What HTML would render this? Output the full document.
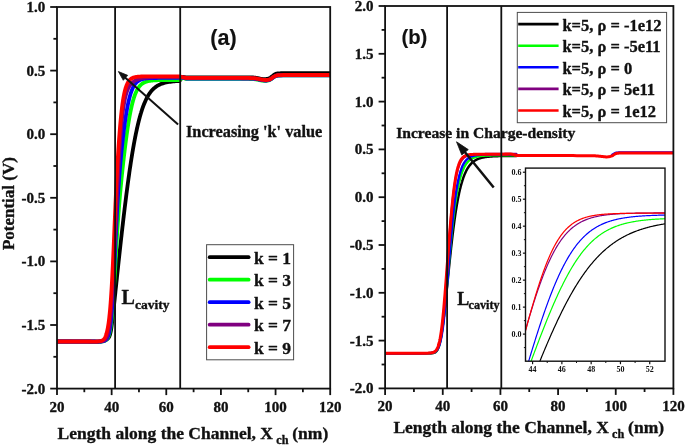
<!DOCTYPE html>
<html><head><meta charset="utf-8"><style>
html,body{margin:0;padding:0;background:#fff;width:685px;height:445px;overflow:hidden}
svg{display:block;will-change:transform}
text{fill:#111;stroke:#111;stroke-width:0.35px;stroke-linejoin:round}
</style></head><body>
<svg width="685" height="445" viewBox="0 0 685 445"><clipPath id="ca"><rect x="57.00" y="7.00" width="273.20" height="381.60"/></clipPath>
<clipPath id="cb"><rect x="385.10" y="6.00" width="288.30" height="382.40"/></clipPath>
<g clip-path="url(#ca)">
<path d="M57.00,341.49 L59.73,341.49 L62.46,341.49 L65.20,341.50 L67.93,341.51 L70.66,341.52 L73.39,341.53 L76.12,341.55 L78.86,341.58 L81.59,341.61 L84.32,341.66 L87.05,341.71 L89.78,341.77 L92.52,341.83 L95.25,341.85 L95.69,341.85 L96.12,341.84 L96.56,341.83 L97.00,341.82 L97.43,341.81 L97.87,341.79 L98.31,341.77 L98.74,341.74 L99.18,341.71 L99.62,341.67 L100.06,341.62 L100.49,341.57 L100.93,341.50 L101.37,341.43 L101.80,341.35 L102.24,341.26 L102.68,341.15 L103.12,341.04 L103.55,340.91 L103.99,340.76 L104.43,340.60 L104.76,340.47 L105.08,340.33 L105.41,340.18 L105.74,340.02 L106.07,339.84 L106.39,339.65 L106.72,339.45 L107.05,339.22 L107.38,338.98 L107.71,338.70 L108.03,338.38 L108.36,338.01 L108.58,337.73 L108.80,337.41 L109.02,337.05 L109.24,336.63 L109.45,336.15 L109.67,335.60 L109.89,334.96 L110.00,334.60 L110.11,334.22 L110.22,333.82 L110.33,333.38 L110.44,332.91 L110.55,332.42 L110.66,331.89 L110.77,331.34 L110.88,330.75 L110.98,330.13 L111.09,329.48 L111.20,328.81 L111.31,328.10 L111.42,327.37 L111.53,326.61 L111.64,325.82 L111.75,325.02 L111.86,324.18 L111.97,323.33 L112.08,322.46 L112.19,321.57 L112.30,320.67 L112.40,319.75 L112.51,318.82 L112.62,317.87 L112.73,316.92 L112.84,315.95 L112.95,314.98 L113.06,313.99 L113.17,313.00 L113.28,312.00 L113.39,311.00 L113.50,309.99 L113.61,308.98 L113.72,307.97 L113.83,306.95 L113.93,305.92 L114.04,304.90 L114.15,303.87 L114.26,302.84 L114.37,301.81 L114.48,300.78 L114.59,299.74 L114.70,298.71 L114.81,297.67 L114.92,296.63 L115.03,295.60 L115.14,294.56 L115.25,293.52 L115.36,292.48 L115.46,291.44 L115.57,290.41 L115.68,289.37 L115.79,288.33 L115.90,287.29 L116.01,286.25 L116.12,285.22 L116.23,284.18 L116.34,283.14 L116.45,282.11 L116.56,281.07 L116.67,280.04 L116.78,279.01 L116.89,277.97 L116.99,276.94 L117.10,275.91 L117.21,274.88 L117.32,273.85 L117.43,272.82 L117.54,271.79 L117.65,270.77 L117.76,269.74 L117.87,268.72 L117.98,267.69 L118.09,266.67 L118.20,265.65 L118.31,264.63 L118.42,263.61 L118.52,262.60 L118.63,261.58 L118.74,260.56 L118.85,259.55 L118.96,258.54 L119.07,257.53 L119.18,256.52 L119.29,255.51 L119.40,254.51 L119.51,253.50 L119.62,252.50 L119.73,251.50 L119.84,250.50 L119.95,249.50 L120.05,248.50 L120.16,247.51 L120.27,246.52 L120.38,245.52 L120.49,244.54 L120.60,243.55 L120.71,242.56 L120.82,241.58 L120.93,240.60 L121.04,239.62 L121.15,238.64 L121.26,237.66 L121.37,236.69 L121.48,235.71 L121.58,234.74 L121.69,233.78 L121.80,232.81 L121.91,231.85 L122.02,230.88 L122.13,229.92 L122.24,228.97 L122.35,228.01 L122.46,227.06 L122.57,226.11 L122.68,225.16 L122.79,224.21 L122.90,223.27 L123.01,222.33 L123.11,221.39 L123.22,220.45 L123.33,219.52 L123.44,218.59 L123.55,217.66 L123.66,216.73 L123.77,215.81 L123.88,214.89 L123.99,213.97 L124.10,213.05 L124.21,212.14 L124.32,211.23 L124.43,210.32 L124.54,209.41 L124.64,208.51 L124.75,207.61 L124.86,206.71 L124.97,205.82 L125.08,204.93 L125.19,204.04 L125.30,203.15 L125.41,202.27 L125.52,201.39 L125.63,200.51 L125.74,199.64 L125.85,198.77 L125.96,197.90 L126.06,197.04 L126.17,196.17 L126.28,195.31 L126.39,194.46 L126.50,193.61 L126.61,192.76 L126.72,191.91 L126.83,191.07 L126.94,190.23 L127.05,189.39 L127.16,188.56 L127.27,187.73 L127.38,186.90 L127.49,186.07 L127.59,185.25 L127.70,184.44 L127.81,183.62 L127.92,182.81 L128.03,182.01 L128.14,181.20 L128.25,180.40 L128.36,179.60 L128.47,178.81 L128.58,178.02 L128.69,177.24 L128.80,176.45 L128.91,175.67 L129.02,174.90 L129.12,174.13 L129.23,173.36 L129.34,172.59 L129.45,171.83 L129.56,171.07 L129.67,170.32 L129.78,169.57 L129.89,168.82 L130.00,168.08 L130.11,167.34 L130.22,166.60 L130.33,165.87 L130.44,165.14 L130.55,164.42 L130.65,163.70 L130.76,162.98 L130.87,162.26 L130.98,161.56 L131.09,160.85 L131.20,160.15 L131.31,159.45 L131.42,158.75 L131.53,158.06 L131.64,157.38 L131.75,156.69 L131.86,156.02 L131.97,155.34 L132.08,154.67 L132.18,154.00 L132.29,153.34 L132.40,152.68 L132.51,152.02 L132.62,151.37 L132.73,150.72 L132.84,150.08 L132.95,149.44 L133.06,148.80 L133.17,148.17 L133.28,147.54 L133.39,146.92 L133.50,146.30 L133.61,145.68 L133.71,145.07 L133.82,144.46 L133.93,143.85 L134.04,143.25 L134.15,142.66 L134.26,142.06 L134.37,141.48 L134.48,140.89 L134.59,140.31 L134.70,139.73 L134.81,139.16 L134.92,138.59 L135.03,138.03 L135.14,137.46 L135.24,136.91 L135.35,136.35 L135.46,135.80 L135.57,135.26 L135.68,134.72 L135.79,134.18 L135.90,133.65 L136.01,133.12 L136.12,132.59 L136.23,132.07 L136.34,131.55 L136.45,131.04 L136.56,130.52 L136.67,130.02 L136.77,129.52 L136.88,129.02 L136.99,128.52 L137.10,128.03 L137.21,127.54 L137.32,127.06 L137.43,126.58 L137.54,126.10 L137.65,125.63 L137.76,125.16 L137.87,124.70 L137.98,124.24 L138.09,123.78 L138.20,123.33 L138.30,122.88 L138.41,122.43 L138.52,121.99 L138.63,121.55 L138.74,121.12 L138.85,120.69 L138.96,120.26 L139.07,119.84 L139.18,119.42 L139.29,119.00 L139.40,118.59 L139.51,118.18 L139.62,117.77 L139.72,117.37 L139.83,116.97 L139.94,116.57 L140.05,116.18 L140.16,115.79 L140.27,115.41 L140.38,115.03 L140.49,114.65 L140.60,114.28 L140.71,113.91 L140.82,113.54 L140.93,113.17 L141.04,112.81 L141.15,112.46 L141.25,112.10 L141.36,111.75 L141.47,111.40 L141.58,111.06 L141.69,110.72 L141.80,110.38 L141.91,110.04 L142.13,109.38 L142.35,108.74 L142.57,108.10 L142.78,107.48 L143.00,106.87 L143.22,106.27 L143.44,105.68 L143.66,105.11 L143.88,104.55 L144.10,103.99 L144.31,103.45 L144.53,102.92 L144.75,102.41 L144.97,101.90 L145.19,101.40 L145.41,100.91 L145.63,100.44 L145.84,99.97 L146.06,99.51 L146.28,99.06 L146.50,98.63 L146.72,98.20 L146.94,97.78 L147.16,97.37 L147.37,96.97 L147.59,96.58 L147.81,96.19 L148.03,95.82 L148.25,95.45 L148.47,95.09 L148.69,94.74 L148.90,94.40 L149.12,94.07 L149.34,93.74 L149.56,93.42 L149.78,93.11 L150.00,92.80 L150.22,92.50 L150.43,92.21 L150.65,91.93 L150.87,91.65 L151.20,91.24 L151.53,90.85 L151.86,90.48 L152.18,90.11 L152.51,89.76 L152.84,89.42 L153.17,89.10 L153.49,88.78 L153.82,88.48 L154.15,88.18 L154.48,87.90 L154.81,87.63 L155.13,87.37 L156.72,86.23 L158.08,85.40 L159.45,84.69 L160.82,84.09 L162.18,83.57 L163.55,83.14 L164.91,82.76 L166.28,82.45 L167.65,82.18 L169.01,81.95 L170.38,81.76 L171.74,81.59 L173.11,81.45 L174.48,81.33 L175.84,81.23 L177.21,81.15 L178.57,81.08 L179.39,81.04 L182.50,76.90 L186.00,77.30 L189.56,77.30 L194.47,77.30 L200.33,77.30 L206.75,77.29 L213.32,77.29 L219.66,77.29 L225.35,77.30 L230.00,77.30 L233.74,77.31 L237.02,77.31 L239.87,77.32 L242.38,77.33 L244.58,77.34 L246.55,77.35 L248.33,77.37 L250.00,77.40 L251.43,77.43 L252.51,77.46 L253.32,77.50 L253.94,77.54 L254.44,77.59 L254.90,77.65 L255.39,77.72 L256.00,77.80 L256.67,77.90 L257.32,78.02 L257.95,78.15 L258.56,78.29 L259.17,78.43 L259.77,78.56 L260.38,78.69 L261.00,78.80 L261.63,78.90 L262.27,78.99 L262.92,79.04 L263.56,79.08 L264.20,79.11 L264.82,79.12 L265.42,79.10 L266.00,79.06 L266.55,78.98 L267.09,78.89 L267.62,78.77 L268.12,78.64 L268.62,78.48 L269.09,78.31 L269.55,78.12 L270.00,77.91 L270.42,77.68 L270.82,77.42 L271.20,77.13 L271.56,76.83 L271.92,76.52 L272.27,76.22 L272.63,75.93 L273.00,75.66 L273.37,75.40 L273.73,75.14 L274.08,74.89 L274.44,74.64 L274.80,74.40 L275.18,74.18 L275.58,73.98 L276.00,73.80 L276.41,73.68 L276.79,73.59 L277.16,73.51 L277.56,73.46 L278.02,73.41 L278.55,73.37 L279.21,73.34 L280.00,73.30 L280.76,73.27 L281.38,73.24 L281.99,73.23 L282.75,73.22 L283.79,73.21 L285.25,73.21 L287.27,73.20 L290.00,73.20 L293.84,73.20 L298.83,73.19 L304.56,73.19 L310.62,73.19 L316.61,73.20 L322.11,73.20 L326.71,73.20 L330.00,73.20" fill="none" stroke="#000000" stroke-width="3.80" stroke-linejoin="round" stroke-linecap="round"/>
<path d="M57.00,341.48 L59.73,341.48 L62.46,341.48 L65.20,341.48 L67.93,341.48 L70.66,341.48 L73.39,341.48 L76.12,341.48 L78.86,341.48 L81.59,341.48 L84.32,341.49 L87.05,341.49 L89.78,341.50 L92.52,341.51 L95.25,341.52 L95.69,341.52 L96.12,341.52 L96.56,341.53 L97.00,341.53 L97.43,341.53 L97.87,341.53 L98.31,341.53 L98.74,341.53 L99.18,341.52 L99.62,341.52 L100.06,341.51 L100.49,341.50 L100.93,341.48 L101.37,341.46 L101.80,341.43 L102.24,341.39 L102.68,341.34 L103.12,341.27 L103.55,341.19 L103.99,341.08 L104.43,340.95 L104.76,340.82 L105.08,340.68 L105.41,340.50 L105.74,340.30 L106.07,340.05 L106.39,339.77 L106.72,339.43 L107.05,339.03 L107.27,338.73 L107.49,338.39 L107.71,338.02 L107.92,337.61 L108.14,337.15 L108.36,336.65 L108.58,336.09 L108.80,335.47 L108.91,335.14 L109.02,334.79 L109.13,334.42 L109.24,334.04 L109.35,333.63 L109.45,333.21 L109.56,332.77 L109.67,332.30 L109.78,331.81 L109.89,331.30 L110.00,330.77 L110.11,330.21 L110.22,329.62 L110.33,329.01 L110.44,328.37 L110.55,327.70 L110.66,327.00 L110.77,326.28 L110.88,325.52 L110.98,324.73 L111.09,323.90 L111.20,323.05 L111.31,322.16 L111.42,321.23 L111.53,320.27 L111.64,319.27 L111.75,318.23 L111.86,317.15 L111.97,316.04 L112.08,314.89 L112.19,313.70 L112.30,312.47 L112.40,311.20 L112.51,309.89 L112.62,308.54 L112.73,307.15 L112.84,305.72 L112.95,304.26 L113.06,302.75 L113.17,301.21 L113.28,299.63 L113.39,298.02 L113.50,296.37 L113.61,294.68 L113.72,292.97 L113.83,291.22 L113.93,289.45 L114.04,287.64 L114.15,285.82 L114.26,283.96 L114.37,282.09 L114.48,280.20 L114.59,278.28 L114.70,276.36 L114.81,274.42 L114.92,272.47 L115.03,270.51 L115.14,268.54 L115.25,266.57 L115.36,264.60 L115.46,262.63 L115.57,260.66 L115.68,258.69 L115.79,256.73 L115.90,254.78 L116.01,252.84 L116.12,250.92 L116.23,249.00 L116.34,247.10 L116.45,245.22 L116.56,243.35 L116.67,241.50 L116.78,239.68 L116.89,237.87 L116.99,236.08 L117.10,234.31 L117.21,232.57 L117.32,230.85 L117.43,229.15 L117.54,227.48 L117.65,225.82 L117.76,224.19 L117.87,222.58 L117.98,221.00 L118.09,219.44 L118.20,217.90 L118.31,216.38 L118.42,214.88 L118.52,213.40 L118.63,211.94 L118.74,210.51 L118.85,209.09 L118.96,207.69 L119.07,206.31 L119.18,204.94 L119.29,203.60 L119.40,202.27 L119.51,200.95 L119.62,199.66 L119.73,198.37 L119.84,197.10 L119.95,195.85 L120.05,194.61 L120.16,193.38 L120.27,192.16 L120.38,190.96 L120.49,189.77 L120.60,188.59 L120.71,187.42 L120.82,186.26 L120.93,185.11 L121.04,183.97 L121.15,182.84 L121.26,181.72 L121.37,180.60 L121.48,179.50 L121.58,178.41 L121.69,177.32 L121.80,176.24 L121.91,175.17 L122.02,174.11 L122.13,173.05 L122.24,172.00 L122.35,170.96 L122.46,169.92 L122.57,168.90 L122.68,167.88 L122.79,166.86 L122.90,165.85 L123.01,164.85 L123.11,163.86 L123.22,162.87 L123.33,161.89 L123.44,160.91 L123.55,159.94 L123.66,158.98 L123.77,158.02 L123.88,157.07 L123.99,156.13 L124.10,155.19 L124.21,154.26 L124.32,153.33 L124.43,152.41 L124.54,151.50 L124.64,150.59 L124.75,149.69 L124.86,148.79 L124.97,147.90 L125.08,147.02 L125.19,146.14 L125.30,145.27 L125.41,144.41 L125.52,143.55 L125.63,142.70 L125.74,141.85 L125.85,141.01 L125.96,140.18 L126.06,139.36 L126.17,138.54 L126.28,137.72 L126.39,136.92 L126.50,136.12 L126.61,135.32 L126.72,134.54 L126.83,133.76 L126.94,132.99 L127.05,132.22 L127.16,131.46 L127.27,130.71 L127.38,129.96 L127.49,129.22 L127.59,128.49 L127.70,127.76 L127.81,127.04 L127.92,126.33 L128.03,125.63 L128.14,124.93 L128.25,124.24 L128.36,123.56 L128.47,122.88 L128.58,122.21 L128.69,121.55 L128.80,120.89 L128.91,120.24 L129.02,119.60 L129.12,118.97 L129.23,118.34 L129.34,117.72 L129.45,117.10 L129.56,116.50 L129.67,115.90 L129.78,115.31 L129.89,114.72 L130.00,114.14 L130.11,113.57 L130.22,113.01 L130.33,112.45 L130.44,111.90 L130.55,111.36 L130.65,110.82 L130.76,110.29 L130.87,109.77 L130.98,109.25 L131.09,108.74 L131.20,108.24 L131.31,107.74 L131.42,107.26 L131.53,106.77 L131.64,106.30 L131.75,105.83 L131.86,105.37 L131.97,104.91 L132.08,104.46 L132.18,104.02 L132.29,103.58 L132.40,103.15 L132.51,102.73 L132.62,102.31 L132.73,101.90 L132.84,101.50 L132.95,101.10 L133.06,100.71 L133.17,100.32 L133.28,99.94 L133.39,99.57 L133.50,99.20 L133.61,98.84 L133.71,98.48 L133.82,98.13 L133.93,97.78 L134.04,97.44 L134.15,97.11 L134.37,96.46 L134.59,95.83 L134.81,95.22 L135.03,94.63 L135.24,94.06 L135.46,93.51 L135.68,92.98 L135.90,92.47 L136.12,91.98 L136.34,91.50 L136.56,91.04 L136.77,90.60 L136.99,90.17 L137.21,89.76 L137.43,89.37 L137.65,88.99 L137.87,88.62 L138.09,88.27 L138.30,87.94 L138.52,87.61 L138.74,87.30 L138.96,87.00 L139.18,86.71 L139.40,86.43 L139.72,86.04 L140.05,85.66 L140.38,85.31 L140.71,84.99 L141.04,84.68 L141.36,84.39 L141.69,84.11 L142.02,83.86 L142.35,83.62 L142.68,83.39 L143.00,83.18 L143.33,82.98 L143.66,82.79 L143.99,82.62 L144.31,82.46 L144.64,82.30 L144.97,82.16 L145.30,82.03 L145.63,81.90 L146.06,81.74 L146.50,81.60 L146.94,81.47 L147.37,81.35 L147.81,81.24 L148.25,81.14 L148.69,81.05 L149.12,80.97 L149.56,80.89 L150.00,80.82 L150.43,80.76 L150.87,80.70 L151.31,80.64 L151.75,80.59 L152.18,80.55 L152.62,80.51 L153.06,80.47 L153.49,80.44 L153.93,80.41 L154.37,80.38 L154.81,80.35 L155.24,80.33 L156.72,80.26 L158.08,80.21 L159.45,80.18 L160.82,80.15 L162.18,80.13 L163.55,80.12 L164.91,80.11 L166.28,80.10 L167.65,80.09 L169.01,80.09 L170.38,80.08 L171.74,80.08 L173.11,80.08 L174.48,80.08 L175.84,80.08 L177.21,80.08 L178.57,80.08 L179.39,80.08 L182.50,77.70 L186.00,78.90 L189.56,78.90 L194.47,78.90 L200.33,78.90 L206.75,78.89 L213.32,78.89 L219.66,78.89 L225.35,78.90 L230.00,78.90 L233.74,78.91 L237.02,78.91 L239.87,78.92 L242.38,78.93 L244.58,78.94 L246.55,78.95 L248.33,78.97 L250.00,79.00 L251.43,79.03 L252.51,79.06 L253.32,79.10 L253.94,79.14 L254.44,79.19 L254.90,79.25 L255.39,79.32 L256.00,79.40 L256.67,79.50 L257.32,79.62 L257.95,79.75 L258.56,79.89 L259.17,80.03 L259.77,80.16 L260.38,80.29 L261.00,80.40 L261.63,80.50 L262.27,80.60 L262.92,80.68 L263.56,80.75 L264.20,80.80 L264.82,80.84 L265.42,80.85 L266.00,80.83 L266.55,80.78 L267.09,80.71 L267.62,80.61 L268.12,80.50 L268.62,80.37 L269.09,80.21 L269.55,80.04 L270.00,79.86 L270.42,79.64 L270.82,79.40 L271.20,79.13 L271.56,78.84 L271.92,78.55 L272.27,78.26 L272.63,77.98 L273.00,77.73 L273.37,77.49 L273.73,77.24 L274.08,77.00 L274.44,76.77 L274.80,76.55 L275.18,76.35 L275.58,76.16 L276.00,76.00 L276.41,75.88 L276.79,75.79 L277.16,75.71 L277.56,75.66 L278.02,75.61 L278.55,75.57 L279.21,75.54 L280.00,75.50 L280.76,75.47 L281.38,75.44 L281.99,75.43 L282.75,75.42 L283.79,75.41 L285.25,75.41 L287.27,75.40 L290.00,75.40 L293.84,75.40 L298.83,75.39 L304.56,75.39 L310.62,75.39 L316.61,75.40 L322.11,75.40 L326.71,75.40 L330.00,75.40" fill="none" stroke="#00ff00" stroke-width="3.80" stroke-linejoin="round" stroke-linecap="round"/>
<path d="M57.00,341.48 L59.73,341.48 L62.46,341.48 L65.20,341.48 L67.93,341.48 L70.66,341.48 L73.39,341.48 L76.12,341.48 L78.86,341.48 L81.59,341.48 L84.32,341.49 L87.05,341.49 L89.78,341.50 L92.52,341.51 L95.25,341.52 L95.69,341.53 L96.12,341.53 L96.56,341.53 L97.00,341.53 L97.43,341.54 L97.87,341.54 L98.31,341.54 L98.74,341.53 L99.18,341.53 L99.62,341.52 L100.06,341.51 L100.49,341.50 L100.93,341.48 L101.37,341.45 L101.80,341.42 L102.24,341.37 L102.68,341.31 L103.12,341.23 L103.55,341.12 L103.99,340.99 L104.43,340.82 L104.76,340.67 L105.08,340.48 L105.41,340.26 L105.74,340.00 L106.07,339.70 L106.39,339.34 L106.61,339.06 L106.83,338.75 L107.05,338.41 L107.27,338.03 L107.49,337.61 L107.71,337.14 L107.92,336.62 L108.14,336.04 L108.36,335.40 L108.47,335.05 L108.58,334.69 L108.69,334.31 L108.80,333.91 L108.91,333.49 L109.02,333.04 L109.13,332.58 L109.24,332.09 L109.35,331.58 L109.45,331.05 L109.56,330.48 L109.67,329.90 L109.78,329.28 L109.89,328.63 L110.00,327.96 L110.11,327.25 L110.22,326.51 L110.33,325.74 L110.44,324.93 L110.55,324.09 L110.66,323.20 L110.77,322.29 L110.88,321.33 L110.98,320.33 L111.09,319.29 L111.20,318.21 L111.31,317.09 L111.42,315.92 L111.53,314.71 L111.64,313.45 L111.75,312.15 L111.86,310.80 L111.97,309.40 L112.08,307.96 L112.19,306.46 L112.30,304.92 L112.40,303.33 L112.51,301.69 L112.62,300.01 L112.73,298.27 L112.84,296.49 L112.95,294.66 L113.06,292.79 L113.17,290.87 L113.28,288.90 L113.39,286.90 L113.50,284.85 L113.61,282.77 L113.72,280.64 L113.83,278.49 L113.93,276.30 L114.04,274.08 L114.15,271.83 L114.26,269.55 L114.37,267.26 L114.48,264.94 L114.59,262.60 L114.70,260.25 L114.81,257.89 L114.92,255.53 L115.03,253.15 L115.14,250.78 L115.25,248.40 L115.36,246.03 L115.46,243.66 L115.57,241.30 L115.68,238.96 L115.79,236.63 L115.90,234.31 L116.01,232.02 L116.12,229.74 L116.23,227.49 L116.34,225.26 L116.45,223.06 L116.56,220.89 L116.67,218.74 L116.78,216.63 L116.89,214.54 L116.99,212.49 L117.10,210.47 L117.21,208.48 L117.32,206.52 L117.43,204.60 L117.54,202.71 L117.65,200.85 L117.76,199.02 L117.87,197.23 L117.98,195.47 L118.09,193.73 L118.20,192.03 L118.31,190.36 L118.42,188.72 L118.52,187.11 L118.63,185.52 L118.74,183.97 L118.85,182.43 L118.96,180.93 L119.07,179.45 L119.18,177.99 L119.29,176.56 L119.40,175.15 L119.51,173.76 L119.62,172.39 L119.73,171.04 L119.84,169.71 L119.95,168.40 L120.05,167.11 L120.16,165.84 L120.27,164.58 L120.38,163.34 L120.49,162.12 L120.60,160.91 L120.71,159.72 L120.82,158.54 L120.93,157.38 L121.04,156.23 L121.15,155.09 L121.26,153.96 L121.37,152.85 L121.48,151.75 L121.58,150.67 L121.69,149.59 L121.80,148.53 L121.91,147.47 L122.02,146.43 L122.13,145.40 L122.24,144.38 L122.35,143.37 L122.46,142.37 L122.57,141.38 L122.68,140.41 L122.79,139.44 L122.90,138.48 L123.01,137.53 L123.11,136.59 L123.22,135.66 L123.33,134.74 L123.44,133.83 L123.55,132.93 L123.66,132.04 L123.77,131.16 L123.88,130.29 L123.99,129.43 L124.10,128.58 L124.21,127.73 L124.32,126.90 L124.43,126.07 L124.54,125.26 L124.64,124.45 L124.75,123.65 L124.86,122.87 L124.97,122.09 L125.08,121.32 L125.19,120.56 L125.30,119.81 L125.41,119.07 L125.52,118.33 L125.63,117.61 L125.74,116.90 L125.85,116.19 L125.96,115.49 L126.06,114.81 L126.17,114.13 L126.28,113.46 L126.39,112.80 L126.50,112.15 L126.61,111.51 L126.72,110.88 L126.83,110.25 L126.94,109.64 L127.05,109.03 L127.16,108.43 L127.27,107.84 L127.38,107.26 L127.49,106.69 L127.59,106.13 L127.70,105.58 L127.81,105.03 L127.92,104.49 L128.03,103.97 L128.14,103.44 L128.25,102.93 L128.36,102.43 L128.47,101.93 L128.58,101.45 L128.69,100.97 L128.80,100.49 L128.91,100.03 L129.02,99.57 L129.12,99.13 L129.23,98.69 L129.34,98.25 L129.45,97.83 L129.56,97.41 L129.67,97.00 L129.78,96.60 L129.89,96.20 L130.00,95.81 L130.11,95.43 L130.22,95.06 L130.33,94.69 L130.44,94.33 L130.55,93.97 L130.65,93.63 L130.76,93.28 L130.87,92.95 L131.09,92.30 L131.31,91.67 L131.53,91.07 L131.75,90.50 L131.97,89.94 L132.18,89.41 L132.40,88.90 L132.62,88.41 L132.84,87.94 L133.06,87.49 L133.28,87.05 L133.50,86.64 L133.71,86.24 L133.93,85.86 L134.15,85.50 L134.37,85.15 L134.59,84.82 L134.81,84.50 L135.03,84.20 L135.24,83.91 L135.46,83.63 L135.79,83.23 L136.12,82.86 L136.45,82.52 L136.77,82.20 L137.10,81.90 L137.43,81.62 L137.76,81.36 L138.09,81.12 L138.41,80.90 L138.74,80.69 L139.07,80.49 L139.40,80.31 L139.72,80.14 L140.05,79.98 L140.38,79.84 L140.71,79.70 L141.04,79.57 L141.47,79.42 L141.91,79.28 L142.35,79.15 L142.78,79.04 L143.22,78.93 L143.66,78.84 L144.10,78.75 L144.53,78.67 L144.97,78.60 L145.41,78.54 L145.84,78.48 L146.28,78.43 L146.72,78.38 L147.16,78.34 L147.59,78.30 L148.03,78.27 L148.47,78.23 L148.90,78.20 L149.34,78.18 L149.78,78.16 L150.22,78.13 L150.65,78.11 L151.09,78.10 L151.53,78.08 L151.96,78.07 L152.40,78.05 L152.84,78.04 L153.28,78.03 L153.71,78.02 L154.15,78.01 L154.59,78.01 L155.02,78.00 L156.72,77.98 L158.08,77.96 L159.45,77.96 L160.82,77.95 L162.18,77.94 L163.55,77.94 L164.91,77.94 L166.28,77.94 L167.65,77.94 L169.01,77.93 L170.38,77.93 L171.74,77.93 L173.11,77.93 L174.48,77.93 L175.84,77.93 L177.21,77.93 L178.57,77.93 L179.39,77.93 L182.50,77.50 L186.00,78.50 L189.56,78.50 L194.47,78.50 L200.33,78.50 L206.75,78.49 L213.32,78.49 L219.66,78.49 L225.35,78.50 L230.00,78.50 L233.74,78.51 L237.02,78.51 L239.87,78.52 L242.38,78.53 L244.58,78.54 L246.55,78.55 L248.33,78.57 L250.00,78.60 L251.43,78.63 L252.51,78.66 L253.32,78.70 L253.94,78.74 L254.44,78.79 L254.90,78.85 L255.39,78.92 L256.00,79.00 L256.67,79.10 L257.32,79.22 L257.95,79.35 L258.56,79.49 L259.17,79.63 L259.77,79.76 L260.38,79.89 L261.00,80.00 L261.63,80.10 L262.27,80.21 L262.92,80.30 L263.56,80.38 L264.20,80.45 L264.82,80.50 L265.42,80.52 L266.00,80.51 L266.55,80.48 L267.09,80.42 L267.62,80.33 L268.12,80.23 L268.62,80.11 L269.09,79.97 L269.55,79.81 L270.00,79.63 L270.42,79.42 L270.82,79.19 L271.20,78.92 L271.56,78.65 L271.92,78.36 L272.27,78.08 L272.63,77.81 L273.00,77.56 L273.37,77.33 L273.73,77.09 L274.08,76.86 L274.44,76.64 L274.80,76.43 L275.18,76.23 L275.58,76.05 L276.00,75.90 L276.41,75.78 L276.79,75.69 L277.16,75.61 L277.56,75.56 L278.02,75.51 L278.55,75.47 L279.21,75.44 L280.00,75.40 L280.76,75.37 L281.38,75.34 L281.99,75.33 L282.75,75.32 L283.79,75.31 L285.25,75.31 L287.27,75.30 L290.00,75.30 L293.84,75.30 L298.83,75.29 L304.56,75.29 L310.62,75.29 L316.61,75.30 L322.11,75.30 L326.71,75.30 L330.00,75.30" fill="none" stroke="#0000ff" stroke-width="3.80" stroke-linejoin="round" stroke-linecap="round"/>
<path d="M57.00,341.48 L59.73,341.48 L62.46,341.48 L65.20,341.48 L67.93,341.48 L70.66,341.48 L73.39,341.48 L76.12,341.48 L78.86,341.48 L81.59,341.48 L84.32,341.48 L87.05,341.48 L89.78,341.49 L92.52,341.49 L95.25,341.50 L95.69,341.50 L96.12,341.50 L96.56,341.50 L97.00,341.49 L97.43,341.49 L97.87,341.49 L98.31,341.48 L98.74,341.47 L99.18,341.46 L99.62,341.44 L100.06,341.42 L100.49,341.39 L100.93,341.36 L101.37,341.31 L101.80,341.24 L102.24,341.16 L102.68,341.06 L103.12,340.92 L103.44,340.80 L103.77,340.66 L104.10,340.48 L104.43,340.27 L104.76,340.03 L105.08,339.74 L105.41,339.39 L105.74,338.98 L105.96,338.67 L106.18,338.33 L106.39,337.94 L106.61,337.51 L106.83,337.03 L107.05,336.50 L107.27,335.92 L107.49,335.27 L107.60,334.92 L107.71,334.55 L107.82,334.17 L107.92,333.76 L108.03,333.33 L108.14,332.89 L108.25,332.42 L108.36,331.93 L108.47,331.42 L108.58,330.88 L108.69,330.31 L108.80,329.72 L108.91,329.11 L109.02,328.46 L109.13,327.79 L109.24,327.09 L109.35,326.35 L109.45,325.59 L109.56,324.79 L109.67,323.96 L109.78,323.10 L109.89,322.20 L110.00,321.26 L110.11,320.29 L110.22,319.29 L110.33,318.24 L110.44,317.16 L110.55,316.03 L110.66,314.87 L110.77,313.67 L110.88,312.43 L110.98,311.15 L111.09,309.82 L111.20,308.46 L111.31,307.05 L111.42,305.60 L111.53,304.12 L111.64,302.59 L111.75,301.02 L111.86,299.40 L111.97,297.75 L112.08,296.06 L112.19,294.33 L112.30,292.56 L112.40,290.75 L112.51,288.90 L112.62,287.02 L112.73,285.10 L112.84,283.14 L112.95,281.15 L113.06,279.13 L113.17,277.08 L113.28,274.99 L113.39,272.88 L113.50,270.74 L113.61,268.57 L113.72,266.37 L113.83,264.15 L113.93,261.91 L114.04,259.65 L114.15,257.37 L114.26,255.07 L114.37,252.75 L114.48,250.41 L114.59,248.07 L114.70,245.71 L114.81,243.34 L114.92,240.96 L115.03,238.57 L115.14,236.18 L115.25,233.78 L115.36,231.38 L115.46,228.98 L115.57,226.58 L115.68,224.18 L115.79,221.78 L115.90,219.39 L116.01,217.00 L116.12,214.62 L116.23,212.24 L116.34,209.88 L116.45,207.53 L116.56,205.19 L116.67,202.86 L116.78,200.54 L116.89,198.24 L116.99,195.96 L117.10,193.69 L117.21,191.44 L117.32,189.22 L117.43,187.01 L117.54,184.82 L117.65,182.65 L117.76,180.51 L117.87,178.39 L117.98,176.30 L118.09,174.22 L118.20,172.18 L118.31,170.16 L118.42,168.17 L118.52,166.20 L118.63,164.26 L118.74,162.35 L118.85,160.47 L118.96,158.61 L119.07,156.79 L119.18,154.99 L119.29,153.23 L119.40,151.49 L119.51,149.78 L119.62,148.11 L119.73,146.46 L119.84,144.84 L119.95,143.26 L120.05,141.70 L120.16,140.17 L120.27,138.68 L120.38,137.21 L120.49,135.78 L120.60,134.37 L120.71,132.99 L120.82,131.64 L120.93,130.32 L121.04,129.03 L121.15,127.77 L121.26,126.54 L121.37,125.33 L121.48,124.16 L121.58,123.01 L121.69,121.88 L121.80,120.79 L121.91,119.71 L122.02,118.67 L122.13,117.65 L122.24,116.66 L122.35,115.69 L122.46,114.74 L122.57,113.82 L122.68,112.92 L122.79,112.04 L122.90,111.19 L123.01,110.36 L123.11,109.55 L123.22,108.76 L123.33,107.99 L123.44,107.24 L123.55,106.52 L123.66,105.81 L123.77,105.12 L123.88,104.45 L123.99,103.79 L124.10,103.16 L124.21,102.54 L124.32,101.93 L124.43,101.35 L124.54,100.78 L124.64,100.22 L124.75,99.68 L124.86,99.16 L124.97,98.65 L125.08,98.15 L125.19,97.66 L125.30,97.19 L125.41,96.74 L125.52,96.29 L125.63,95.86 L125.74,95.43 L125.85,95.02 L125.96,94.62 L126.06,94.24 L126.17,93.86 L126.28,93.49 L126.39,93.13 L126.50,92.78 L126.61,92.44 L126.83,91.79 L127.05,91.17 L127.27,90.58 L127.49,90.03 L127.70,89.50 L127.92,88.99 L128.14,88.52 L128.36,88.06 L128.58,87.63 L128.80,87.22 L129.02,86.82 L129.23,86.45 L129.45,86.09 L129.67,85.75 L129.89,85.43 L130.11,85.12 L130.33,84.82 L130.55,84.54 L130.87,84.13 L131.20,83.76 L131.53,83.40 L131.86,83.06 L132.18,82.75 L132.51,82.45 L132.84,82.17 L133.17,81.91 L133.50,81.66 L133.82,81.42 L134.15,81.20 L134.48,80.99 L134.81,80.79 L135.14,80.60 L135.46,80.41 L135.79,80.24 L136.12,80.08 L136.45,79.93 L136.77,79.78 L137.10,79.64 L137.43,79.51 L137.76,79.38 L138.20,79.22 L138.63,79.07 L139.07,78.93 L139.51,78.80 L139.94,78.68 L140.38,78.57 L140.82,78.46 L141.25,78.37 L141.69,78.27 L142.13,78.19 L142.57,78.11 L143.00,78.03 L143.44,77.96 L143.88,77.90 L144.31,77.84 L144.75,77.78 L145.19,77.73 L145.63,77.68 L146.06,77.64 L146.50,77.59 L146.94,77.55 L147.37,77.52 L147.81,77.48 L148.25,77.45 L148.69,77.42 L149.12,77.40 L149.56,77.37 L150.00,77.35 L150.43,77.32 L150.87,77.30 L151.31,77.29 L151.75,77.27 L152.18,77.25 L152.62,77.24 L153.06,77.22 L153.49,77.21 L153.93,77.20 L154.37,77.19 L154.81,77.18 L155.24,77.17 L156.72,77.14 L158.08,77.12 L159.45,77.10 L160.82,77.09 L162.18,77.08 L163.55,77.07 L164.91,77.07 L166.28,77.06 L167.65,77.06 L169.01,77.06 L170.38,77.05 L171.74,77.05 L173.11,77.05 L174.48,77.05 L175.84,77.05 L177.21,77.05 L178.57,77.05 L179.39,77.05 L182.50,77.35 L186.00,78.20 L189.56,78.20 L194.47,78.20 L200.33,78.20 L206.75,78.19 L213.32,78.19 L219.66,78.19 L225.35,78.20 L230.00,78.20 L233.74,78.21 L237.02,78.21 L239.87,78.22 L242.38,78.23 L244.58,78.24 L246.55,78.25 L248.33,78.27 L250.00,78.30 L251.43,78.33 L252.51,78.36 L253.32,78.40 L253.94,78.44 L254.44,78.49 L254.90,78.55 L255.39,78.62 L256.00,78.70 L256.67,78.80 L257.32,78.92 L257.95,79.05 L258.56,79.19 L259.17,79.33 L259.77,79.46 L260.38,79.59 L261.00,79.70 L261.63,79.80 L262.27,79.91 L262.92,80.01 L263.56,80.10 L264.20,80.18 L264.82,80.24 L265.42,80.27 L266.00,80.27 L266.55,80.24 L267.09,80.19 L267.62,80.12 L268.12,80.02 L268.62,79.90 L269.09,79.77 L269.55,79.61 L270.00,79.44 L270.42,79.24 L270.82,79.01 L271.20,78.75 L271.56,78.48 L271.92,78.20 L272.27,77.93 L272.63,77.66 L273.00,77.42 L273.37,77.19 L273.73,76.96 L274.08,76.74 L274.44,76.52 L274.80,76.31 L275.18,76.12 L275.58,75.95 L276.00,75.80 L276.41,75.68 L276.79,75.59 L277.16,75.51 L277.56,75.46 L278.02,75.41 L278.55,75.37 L279.21,75.34 L280.00,75.30 L280.76,75.27 L281.38,75.24 L281.99,75.23 L282.75,75.22 L283.79,75.21 L285.25,75.21 L287.27,75.20 L290.00,75.20 L293.84,75.20 L298.83,75.19 L304.56,75.19 L310.62,75.19 L316.61,75.20 L322.11,75.20 L326.71,75.20 L330.00,75.20" fill="none" stroke="#800080" stroke-width="3.80" stroke-linejoin="round" stroke-linecap="round"/>
<path d="M57.00,341.48 L59.73,341.48 L62.46,341.48 L65.20,341.48 L67.93,341.48 L70.66,341.48 L73.39,341.48 L76.12,341.48 L78.86,341.48 L81.59,341.48 L84.32,341.49 L87.05,341.50 L89.78,341.51 L92.52,341.53 L95.25,341.54 L95.69,341.53 L96.12,341.53 L96.56,341.52 L97.00,341.51 L97.43,341.49 L97.87,341.47 L98.31,341.44 L98.74,341.40 L99.18,341.35 L99.62,341.29 L100.06,341.21 L100.49,341.12 L100.93,340.99 L101.37,340.84 L101.70,340.71 L102.02,340.55 L102.35,340.37 L102.68,340.16 L103.01,339.91 L103.33,339.63 L103.66,339.30 L103.99,338.92 L104.21,338.64 L104.43,338.33 L104.65,337.99 L104.86,337.62 L105.08,337.21 L105.30,336.77 L105.52,336.28 L105.74,335.75 L105.96,335.18 L106.18,334.55 L106.29,334.22 L106.39,333.87 L106.50,333.50 L106.61,333.12 L106.72,332.73 L106.83,332.32 L106.94,331.89 L107.05,331.44 L107.16,330.98 L107.27,330.49 L107.38,329.99 L107.49,329.47 L107.60,328.92 L107.71,328.36 L107.82,327.77 L107.92,327.16 L108.03,326.52 L108.14,325.86 L108.25,325.17 L108.36,324.46 L108.47,323.72 L108.58,322.96 L108.69,322.16 L108.80,321.34 L108.91,320.49 L109.02,319.60 L109.13,318.69 L109.24,317.74 L109.35,316.76 L109.45,315.74 L109.56,314.69 L109.67,313.61 L109.78,312.49 L109.89,311.33 L110.00,310.13 L110.11,308.90 L110.22,307.63 L110.33,306.32 L110.44,304.97 L110.55,303.57 L110.66,302.14 L110.77,300.67 L110.88,299.15 L110.98,297.59 L111.09,295.99 L111.20,294.34 L111.31,292.65 L111.42,290.92 L111.53,289.15 L111.64,287.33 L111.75,285.46 L111.86,283.56 L111.97,281.61 L112.08,279.61 L112.19,277.58 L112.30,275.50 L112.40,273.38 L112.51,271.22 L112.62,269.02 L112.73,266.78 L112.84,264.51 L112.95,262.20 L113.06,259.85 L113.17,257.47 L113.28,255.06 L113.39,252.62 L113.50,250.15 L113.61,247.65 L113.72,245.14 L113.83,242.60 L113.93,240.04 L114.04,237.47 L114.15,234.89 L114.26,232.30 L114.37,229.70 L114.48,227.10 L114.59,224.50 L114.70,221.90 L114.81,219.31 L114.92,216.73 L115.03,214.17 L115.14,211.62 L115.25,209.09 L115.36,206.58 L115.46,204.09 L115.57,201.63 L115.68,199.20 L115.79,196.80 L115.90,194.44 L116.01,192.10 L116.12,189.80 L116.23,187.52 L116.34,185.29 L116.45,183.08 L116.56,180.92 L116.67,178.78 L116.78,176.68 L116.89,174.60 L116.99,172.56 L117.10,170.56 L117.21,168.58 L117.32,166.63 L117.43,164.71 L117.54,162.82 L117.65,160.96 L117.76,159.13 L117.87,157.32 L117.98,155.54 L118.09,153.79 L118.20,152.07 L118.31,150.37 L118.42,148.69 L118.52,147.04 L118.63,145.42 L118.74,143.82 L118.85,142.25 L118.96,140.70 L119.07,139.18 L119.18,137.69 L119.29,136.22 L119.40,134.77 L119.51,133.35 L119.62,131.95 L119.73,130.58 L119.84,129.24 L119.95,127.91 L120.05,126.62 L120.16,125.34 L120.27,124.10 L120.38,122.87 L120.49,121.67 L120.60,120.50 L120.71,119.35 L120.82,118.22 L120.93,117.12 L121.04,116.04 L121.15,114.98 L121.26,113.95 L121.37,112.94 L121.48,111.95 L121.58,110.98 L121.69,110.04 L121.80,109.11 L121.91,108.21 L122.02,107.33 L122.13,106.47 L122.24,105.64 L122.35,104.82 L122.46,104.02 L122.57,103.24 L122.68,102.48 L122.79,101.74 L122.90,101.02 L123.01,100.31 L123.11,99.63 L123.22,98.96 L123.33,98.31 L123.44,97.67 L123.55,97.06 L123.66,96.46 L123.77,95.87 L123.88,95.30 L123.99,94.75 L124.10,94.21 L124.21,93.68 L124.32,93.17 L124.43,92.67 L124.54,92.19 L124.64,91.72 L124.75,91.26 L124.86,90.82 L124.97,90.39 L125.08,89.97 L125.19,89.56 L125.30,89.17 L125.41,88.78 L125.52,88.41 L125.63,88.04 L125.74,87.69 L125.85,87.35 L125.96,87.01 L126.17,86.38 L126.39,85.78 L126.61,85.21 L126.83,84.68 L127.05,84.18 L127.27,83.70 L127.49,83.26 L127.70,82.84 L127.92,82.44 L128.14,82.07 L128.36,81.72 L128.58,81.40 L128.80,81.09 L129.02,80.80 L129.34,80.40 L129.67,80.03 L130.00,79.70 L130.33,79.39 L130.65,79.12 L130.98,78.86 L131.31,78.64 L131.64,78.43 L131.97,78.24 L132.29,78.07 L132.62,77.91 L132.95,77.77 L133.28,77.64 L133.71,77.49 L134.15,77.35 L134.59,77.23 L135.03,77.13 L135.46,77.04 L135.90,76.96 L136.34,76.88 L136.77,76.82 L137.21,76.77 L137.65,76.72 L138.09,76.68 L138.52,76.64 L138.96,76.61 L139.40,76.58 L139.83,76.55 L140.27,76.53 L140.71,76.51 L141.15,76.50 L141.58,76.48 L142.02,76.47 L142.46,76.46 L142.89,76.45 L143.33,76.44 L143.77,76.43 L144.21,76.42 L144.64,76.42 L145.08,76.41 L145.52,76.41 L145.95,76.40 L146.39,76.40 L146.83,76.40 L147.27,76.39 L147.70,76.39 L148.14,76.39 L148.58,76.39 L149.01,76.39 L149.45,76.39 L149.89,76.38 L150.33,76.38 L150.76,76.38 L151.20,76.38 L151.64,76.38 L152.07,76.38 L152.51,76.38 L152.95,76.38 L153.38,76.38 L153.82,76.38 L154.26,76.38 L154.70,76.38 L155.13,76.38 L156.72,76.38 L158.08,76.38 L159.45,76.38 L160.82,76.38 L162.18,76.38 L163.55,76.38 L164.91,76.38 L166.28,76.38 L167.65,76.38 L169.01,76.38 L170.38,76.38 L171.74,76.38 L173.11,76.38 L174.48,76.38 L175.84,76.38 L177.21,76.38 L178.57,76.38 L179.39,76.38 L182.50,77.20 L186.00,77.90 L189.56,77.90 L194.47,77.90 L200.33,77.90 L206.75,77.89 L213.32,77.89 L219.66,77.89 L225.35,77.90 L230.00,77.90 L233.74,77.91 L237.02,77.91 L239.87,77.92 L242.38,77.93 L244.58,77.94 L246.55,77.95 L248.33,77.97 L250.00,78.00 L251.43,78.03 L252.51,78.06 L253.32,78.10 L253.94,78.14 L254.44,78.19 L254.90,78.25 L255.39,78.32 L256.00,78.40 L256.67,78.50 L257.32,78.62 L257.95,78.75 L258.56,78.89 L259.17,79.03 L259.77,79.16 L260.38,79.29 L261.00,79.40 L261.63,79.50 L262.27,79.61 L262.92,79.72 L263.56,79.81 L264.20,79.90 L264.82,79.96 L265.42,79.99 L266.00,80.00 L266.55,79.98 L267.09,79.93 L267.62,79.86 L268.12,79.76 L268.62,79.65 L269.09,79.52 L269.55,79.37 L270.00,79.20 L270.42,79.00 L270.82,78.78 L271.20,78.52 L271.56,78.25 L271.92,77.97 L272.27,77.70 L272.63,77.44 L273.00,77.20 L273.37,76.97 L273.73,76.75 L274.08,76.52 L274.44,76.31 L274.80,76.10 L275.18,75.91 L275.58,75.74 L276.00,75.60 L276.41,75.48 L276.79,75.39 L277.16,75.31 L277.56,75.26 L278.02,75.21 L278.55,75.17 L279.21,75.14 L280.00,75.10 L280.76,75.07 L281.38,75.04 L281.99,75.03 L282.75,75.02 L283.79,75.01 L285.25,75.01 L287.27,75.00 L290.00,75.00 L293.84,75.00 L298.83,74.99 L304.56,74.99 L310.62,74.99 L316.61,75.00 L322.11,75.00 L326.71,75.00 L330.00,75.00" fill="none" stroke="#ff0000" stroke-width="3.80" stroke-linejoin="round" stroke-linecap="round"/>
</g>
<rect x="57.00" y="7.00" width="273.20" height="381.60" fill="none" stroke="#111" stroke-width="1.80"/>
<line x1="115.10" y1="7.00" x2="115.10" y2="388.60" stroke="#111" stroke-width="1.80" stroke-linecap="butt"/>
<line x1="180.20" y1="7.00" x2="180.20" y2="388.60" stroke="#111" stroke-width="1.80" stroke-linecap="butt"/>
<line x1="50.20" y1="7.00" x2="57.00" y2="7.00" stroke="#111" stroke-width="1.80" stroke-linecap="butt"/>
<text x="45.20" y="12.00" font-family='"Liberation Serif", serif' font-weight="bold" font-size="15.00" text-anchor="end">1.0</text>
<line x1="53.40" y1="38.80" x2="57.00" y2="38.80" stroke="#111" stroke-width="1.80" stroke-linecap="butt"/>
<line x1="50.20" y1="70.60" x2="57.00" y2="70.60" stroke="#111" stroke-width="1.80" stroke-linecap="butt"/>
<text x="45.20" y="75.60" font-family='"Liberation Serif", serif' font-weight="bold" font-size="15.00" text-anchor="end">0.5</text>
<line x1="53.40" y1="102.40" x2="57.00" y2="102.40" stroke="#111" stroke-width="1.80" stroke-linecap="butt"/>
<line x1="50.20" y1="134.20" x2="57.00" y2="134.20" stroke="#111" stroke-width="1.80" stroke-linecap="butt"/>
<text x="45.20" y="139.20" font-family='"Liberation Serif", serif' font-weight="bold" font-size="15.00" text-anchor="end">0.0</text>
<line x1="53.40" y1="166.00" x2="57.00" y2="166.00" stroke="#111" stroke-width="1.80" stroke-linecap="butt"/>
<line x1="50.20" y1="197.80" x2="57.00" y2="197.80" stroke="#111" stroke-width="1.80" stroke-linecap="butt"/>
<text x="45.20" y="202.80" font-family='"Liberation Serif", serif' font-weight="bold" font-size="15.00" text-anchor="end">-0.5</text>
<line x1="53.40" y1="229.60" x2="57.00" y2="229.60" stroke="#111" stroke-width="1.80" stroke-linecap="butt"/>
<line x1="50.20" y1="261.40" x2="57.00" y2="261.40" stroke="#111" stroke-width="1.80" stroke-linecap="butt"/>
<text x="45.20" y="266.40" font-family='"Liberation Serif", serif' font-weight="bold" font-size="15.00" text-anchor="end">-1.0</text>
<line x1="53.40" y1="293.20" x2="57.00" y2="293.20" stroke="#111" stroke-width="1.80" stroke-linecap="butt"/>
<line x1="50.20" y1="325.00" x2="57.00" y2="325.00" stroke="#111" stroke-width="1.80" stroke-linecap="butt"/>
<text x="45.20" y="330.00" font-family='"Liberation Serif", serif' font-weight="bold" font-size="15.00" text-anchor="end">-1.5</text>
<line x1="53.40" y1="356.80" x2="57.00" y2="356.80" stroke="#111" stroke-width="1.80" stroke-linecap="butt"/>
<line x1="50.20" y1="388.60" x2="57.00" y2="388.60" stroke="#111" stroke-width="1.80" stroke-linecap="butt"/>
<text x="45.20" y="393.60" font-family='"Liberation Serif", serif' font-weight="bold" font-size="15.00" text-anchor="end">-2.0</text>
<line x1="57.00" y1="388.60" x2="57.00" y2="395.10" stroke="#111" stroke-width="1.80" stroke-linecap="butt"/>
<text x="57.00" y="411.60" font-family='"Liberation Serif", serif' font-weight="bold" font-size="15.00" text-anchor="middle">20</text>
<line x1="84.32" y1="388.60" x2="84.32" y2="392.20" stroke="#111" stroke-width="1.80" stroke-linecap="butt"/>
<line x1="111.64" y1="388.60" x2="111.64" y2="395.10" stroke="#111" stroke-width="1.80" stroke-linecap="butt"/>
<text x="111.64" y="411.60" font-family='"Liberation Serif", serif' font-weight="bold" font-size="15.00" text-anchor="middle">40</text>
<line x1="138.96" y1="388.60" x2="138.96" y2="392.20" stroke="#111" stroke-width="1.80" stroke-linecap="butt"/>
<line x1="166.28" y1="388.60" x2="166.28" y2="395.10" stroke="#111" stroke-width="1.80" stroke-linecap="butt"/>
<text x="166.28" y="411.60" font-family='"Liberation Serif", serif' font-weight="bold" font-size="15.00" text-anchor="middle">60</text>
<line x1="193.60" y1="388.60" x2="193.60" y2="392.20" stroke="#111" stroke-width="1.80" stroke-linecap="butt"/>
<line x1="220.92" y1="388.60" x2="220.92" y2="395.10" stroke="#111" stroke-width="1.80" stroke-linecap="butt"/>
<text x="220.92" y="411.60" font-family='"Liberation Serif", serif' font-weight="bold" font-size="15.00" text-anchor="middle">80</text>
<line x1="248.24" y1="388.60" x2="248.24" y2="392.20" stroke="#111" stroke-width="1.80" stroke-linecap="butt"/>
<line x1="275.56" y1="388.60" x2="275.56" y2="395.10" stroke="#111" stroke-width="1.80" stroke-linecap="butt"/>
<text x="275.56" y="411.60" font-family='"Liberation Serif", serif' font-weight="bold" font-size="15.00" text-anchor="middle">100</text>
<line x1="302.88" y1="388.60" x2="302.88" y2="392.20" stroke="#111" stroke-width="1.80" stroke-linecap="butt"/>
<line x1="330.20" y1="388.60" x2="330.20" y2="395.10" stroke="#111" stroke-width="1.80" stroke-linecap="butt"/>
<text x="330.20" y="411.60" font-family='"Liberation Serif", serif' font-weight="bold" font-size="15.00" text-anchor="middle">120</text>
<text x="57.60" y="438.90" font-family='"Liberation Serif", serif' font-weight="bold" font-size="17.50" text-anchor="start">Length along the Channel, X<tspan font-size="12.2" dx="3.3" dy="5">ch</tspan><tspan dx="3.8" dy="-5">(nm)</tspan></text>
<text transform="translate(13.6,203.6) rotate(-90)" x="0" y="0" font-family='"Liberation Serif", serif' font-weight="bold" font-size="17" text-anchor="middle">Potential (V)</text>
<text x="210.30" y="44.70" font-family='"Liberation Sans", sans-serif' font-weight="bold" font-size="21.50" text-anchor="start" style="stroke-width:0.15px">(a)</text>
<text x="186.00" y="136.80" font-family='"Liberation Serif", serif' font-weight="bold" font-size="16.30" text-anchor="start">Increasing 'k' value</text>
<text x="121.50" y="303.90" font-family='"Liberation Serif", serif' font-weight="bold" font-size="20.00" text-anchor="start">L</text>
<text x="135.00" y="308.60" font-family='"Liberation Serif", serif' font-weight="bold" font-size="13.50" text-anchor="start">cavity</text>
<line x1="124.74" y1="77.17" x2="178.10" y2="124.40" stroke="#111" stroke-width="2.00" stroke-linecap="butt"/>
<polygon points="118.37,71.53 123.30,80.30 127.68,75.36" fill="#111" stroke="#111" stroke-width="0.8" stroke-linejoin="round"/>
<rect x="206.6" y="244.7" width="87.0" height="115.1" fill="#fff" stroke="#4d4d4d" stroke-width="1.0"/>
<line x1="209.70" y1="257.20" x2="248.60" y2="257.20" stroke="#000000" stroke-width="3.80" stroke-linecap="round"/>
<text x="253.90" y="263.80" font-family='"Liberation Serif", serif' font-weight="bold" font-size="17.50" text-anchor="start">k = 1</text>
<line x1="209.70" y1="279.70" x2="248.60" y2="279.70" stroke="#00ff00" stroke-width="3.80" stroke-linecap="round"/>
<text x="253.90" y="286.30" font-family='"Liberation Serif", serif' font-weight="bold" font-size="17.50" text-anchor="start">k = 3</text>
<line x1="209.70" y1="302.20" x2="248.60" y2="302.20" stroke="#0000ff" stroke-width="3.80" stroke-linecap="round"/>
<text x="253.90" y="308.80" font-family='"Liberation Serif", serif' font-weight="bold" font-size="17.50" text-anchor="start">k = 5</text>
<line x1="209.70" y1="324.70" x2="248.60" y2="324.70" stroke="#800080" stroke-width="3.80" stroke-linecap="round"/>
<text x="253.90" y="331.30" font-family='"Liberation Serif", serif' font-weight="bold" font-size="17.50" text-anchor="start">k = 7</text>
<line x1="209.70" y1="347.20" x2="248.60" y2="347.20" stroke="#ff0000" stroke-width="3.80" stroke-linecap="round"/>
<text x="253.90" y="353.80" font-family='"Liberation Serif", serif' font-weight="bold" font-size="17.50" text-anchor="start">k = 9</text>
<g clip-path="url(#cb)">
<path d="M385.10,353.20 L387.98,353.20 L390.87,353.20 L393.75,353.20 L396.63,353.20 L399.52,353.20 L402.40,353.20 L405.28,353.20 L408.16,353.20 L411.05,353.20 L413.93,353.20 L416.81,353.20 L419.70,353.20 L422.58,353.20 L425.46,353.20 L425.92,353.20 L426.38,353.20 L426.85,353.20 L427.31,353.20 L427.77,353.20 L428.23,353.20 L428.69,353.20 L429.15,353.20 L429.61,353.20 L430.07,353.19 L430.54,353.19 L431.00,353.18 L431.46,353.17 L431.92,353.15 L432.38,353.13 L432.84,353.08 L433.30,353.02 L433.65,352.95 L434.00,352.87 L434.34,352.75 L434.69,352.61 L435.03,352.44 L435.38,352.22 L435.73,351.96 L436.07,351.64 L436.42,351.25 L436.65,350.96 L436.88,350.63 L437.11,350.27 L437.34,349.87 L437.57,349.42 L437.80,348.94 L438.03,348.41 L438.26,347.83 L438.49,347.20 L438.61,346.87 L438.72,346.52 L438.84,346.17 L438.95,345.79 L439.07,345.41 L439.19,345.01 L439.30,344.60 L439.42,344.17 L439.53,343.73 L439.65,343.27 L439.76,342.80 L439.88,342.32 L439.99,341.82 L440.11,341.30 L440.22,340.77 L440.34,340.23 L440.45,339.67 L440.57,339.10 L440.68,338.51 L440.80,337.90 L440.91,337.28 L441.03,336.65 L441.15,336.00 L441.26,335.34 L441.38,334.66 L441.49,333.96 L441.61,333.26 L441.72,332.53 L441.84,331.80 L441.95,331.04 L442.07,330.28 L442.18,329.50 L442.30,328.70 L442.41,327.90 L442.53,327.08 L442.64,326.24 L442.76,325.39 L442.88,324.53 L442.99,323.66 L443.11,322.77 L443.22,321.87 L443.34,320.96 L443.45,320.04 L443.57,319.11 L443.68,318.16 L443.80,317.21 L443.91,316.24 L444.03,315.26 L444.14,314.27 L444.26,313.28 L444.37,312.27 L444.49,311.25 L444.61,310.23 L444.72,309.20 L444.84,308.15 L444.95,307.10 L445.07,306.05 L445.18,304.98 L445.30,303.91 L445.41,302.83 L445.53,301.75 L445.64,300.66 L445.76,299.56 L445.87,298.46 L445.99,297.35 L446.10,296.24 L446.22,295.12 L446.33,294.01 L446.45,292.88 L446.57,291.75 L446.68,290.62 L446.80,289.49 L446.91,288.36 L447.03,287.22 L447.14,286.08 L447.26,284.94 L447.37,283.80 L447.49,282.66 L447.60,281.51 L447.72,280.37 L447.83,279.23 L447.95,278.08 L448.06,276.94 L448.18,275.80 L448.30,274.66 L448.41,273.52 L448.53,272.38 L448.64,271.24 L448.76,270.11 L448.87,268.98 L448.99,267.85 L449.10,266.72 L449.22,265.60 L449.33,264.48 L449.45,263.36 L449.56,262.25 L449.68,261.14 L449.79,260.04 L449.91,258.94 L450.03,257.84 L450.14,256.75 L450.26,255.66 L450.37,254.58 L450.49,253.50 L450.60,252.43 L450.72,251.37 L450.83,250.31 L450.95,249.25 L451.06,248.20 L451.18,247.16 L451.29,246.13 L451.41,245.10 L451.52,244.07 L451.64,243.06 L451.75,242.05 L451.87,241.04 L451.99,240.04 L452.10,239.06 L452.22,238.07 L452.33,237.10 L452.45,236.13 L452.56,235.17 L452.68,234.21 L452.79,233.27 L452.91,232.33 L453.02,231.40 L453.14,230.47 L453.25,229.56 L453.37,228.65 L453.48,227.75 L453.60,226.85 L453.72,225.97 L453.83,225.09 L453.95,224.22 L454.06,223.36 L454.18,222.50 L454.29,221.66 L454.41,220.82 L454.52,219.99 L454.64,219.16 L454.75,218.35 L454.87,217.54 L454.98,216.74 L455.10,215.95 L455.21,215.17 L455.33,214.39 L455.45,213.63 L455.56,212.87 L455.68,212.12 L455.79,211.37 L455.91,210.64 L456.02,209.91 L456.14,209.19 L456.25,208.47 L456.37,207.77 L456.48,207.07 L456.60,206.38 L456.71,205.70 L456.83,205.03 L456.94,204.36 L457.06,203.70 L457.17,203.05 L457.29,202.40 L457.41,201.77 L457.52,201.14 L457.64,200.51 L457.75,199.90 L457.87,199.29 L457.98,198.69 L458.10,198.10 L458.21,197.51 L458.33,196.93 L458.44,196.36 L458.56,195.79 L458.67,195.24 L458.79,194.68 L458.90,194.14 L459.02,193.60 L459.14,193.07 L459.25,192.54 L459.37,192.02 L459.48,191.51 L459.60,191.01 L459.71,190.51 L459.83,190.02 L459.94,189.53 L460.06,189.05 L460.17,188.57 L460.29,188.11 L460.40,187.64 L460.52,187.19 L460.63,186.74 L460.75,186.29 L460.87,185.85 L460.98,185.42 L461.10,184.99 L461.21,184.57 L461.33,184.16 L461.44,183.75 L461.56,183.34 L461.67,182.94 L461.79,182.55 L461.90,182.16 L462.02,181.78 L462.13,181.40 L462.25,181.02 L462.36,180.66 L462.48,180.29 L462.60,179.94 L462.71,179.58 L462.83,179.23 L462.94,178.89 L463.06,178.55 L463.17,178.22 L463.40,177.56 L463.63,176.92 L463.86,176.31 L464.09,175.70 L464.32,175.12 L464.56,174.55 L464.79,174.00 L465.02,173.46 L465.25,172.94 L465.48,172.43 L465.71,171.94 L465.94,171.46 L466.17,170.99 L466.40,170.54 L466.63,170.10 L466.86,169.68 L467.09,169.26 L467.32,168.86 L467.55,168.47 L467.78,168.09 L468.02,167.73 L468.25,167.37 L468.48,167.02 L468.71,166.69 L468.94,166.36 L469.17,166.05 L469.40,165.74 L469.63,165.44 L469.86,165.15 L470.09,164.87 L470.32,164.60 L470.55,164.33 L470.90,163.95 L471.24,163.59 L471.59,163.24 L471.94,162.91 L472.28,162.59 L472.63,162.28 L472.97,161.99 L473.32,161.72 L473.67,161.45 L474.01,161.20 L474.36,160.96 L474.70,160.73 L475.05,160.51 L475.40,160.30 L475.74,160.10 L476.09,159.91 L476.43,159.72 L476.78,159.55 L477.13,159.38 L477.47,159.22 L477.82,159.07 L478.16,158.93 L478.51,158.79 L478.86,158.66 L479.20,158.53 L479.55,158.41 L479.89,158.30 L480.24,158.19 L480.58,158.09 L480.93,157.99 L481.28,157.89 L481.62,157.80 L481.97,157.71 L482.31,157.63 L482.66,157.55 L483.01,157.48 L483.35,157.41 L483.70,157.34 L484.04,157.27 L484.39,157.21 L484.74,157.15 L485.08,157.10 L485.43,157.04 L485.89,156.97 L486.35,156.91 L486.81,156.85 L487.27,156.79 L487.73,156.74 L488.20,156.69 L488.66,156.65 L490.33,156.50 L491.77,156.40 L493.21,156.31 L494.65,156.25 L496.10,156.19 L497.54,156.14 L498.98,156.11 L500.42,156.07 L501.86,156.05 L503.30,156.03 L504.74,156.01 L506.19,156.00 L507.63,155.98 L509.07,155.98 L510.51,155.97 L511.95,155.96 L513.39,155.96 L514.84,155.95 L516.28,155.95" fill="none" stroke="#000000" stroke-width="2.50" stroke-linejoin="round" stroke-linecap="round"/>
<path d="M385.10,353.20 L387.98,353.20 L390.87,353.20 L393.75,353.20 L396.63,353.20 L399.52,353.20 L402.40,353.20 L405.28,353.20 L408.16,353.20 L411.05,353.20 L413.93,353.20 L416.81,353.20 L419.70,353.20 L422.58,353.20 L425.46,353.20 L425.92,353.20 L426.38,353.19 L426.85,353.19 L427.31,353.19 L427.77,353.19 L428.23,353.18 L428.69,353.18 L429.15,353.17 L429.61,353.16 L430.07,353.15 L430.54,353.13 L431.00,353.11 L431.46,353.07 L431.92,353.03 L432.38,352.97 L432.73,352.92 L433.07,352.85 L433.42,352.77 L433.77,352.67 L434.11,352.55 L434.46,352.41 L434.80,352.24 L435.15,352.04 L435.49,351.81 L435.84,351.53 L436.19,351.20 L436.53,350.82 L436.76,350.53 L436.99,350.21 L437.22,349.87 L437.46,349.48 L437.69,349.07 L437.92,348.61 L438.15,348.11 L438.38,347.57 L438.61,346.99 L438.84,346.36 L438.95,346.02 L439.07,345.67 L439.19,345.31 L439.30,344.94 L439.42,344.55 L439.53,344.15 L439.65,343.73 L439.76,343.30 L439.88,342.85 L439.99,342.39 L440.11,341.92 L440.22,341.43 L440.34,340.92 L440.45,340.40 L440.57,339.86 L440.68,339.30 L440.80,338.73 L440.91,338.14 L441.03,337.54 L441.15,336.92 L441.26,336.28 L441.38,335.63 L441.49,334.95 L441.61,334.27 L441.72,333.56 L441.84,332.84 L441.95,332.10 L442.07,331.34 L442.18,330.56 L442.30,329.77 L442.41,328.96 L442.53,328.13 L442.64,327.29 L442.76,326.43 L442.88,325.55 L442.99,324.66 L443.11,323.75 L443.22,322.82 L443.34,321.88 L443.45,320.92 L443.57,319.95 L443.68,318.96 L443.80,317.95 L443.91,316.93 L444.03,315.90 L444.14,314.85 L444.26,313.78 L444.37,312.70 L444.49,311.61 L444.61,310.51 L444.72,309.39 L444.84,308.26 L444.95,307.12 L445.07,305.96 L445.18,304.80 L445.30,303.62 L445.41,302.44 L445.53,301.24 L445.64,300.03 L445.76,298.82 L445.87,297.59 L445.99,296.36 L446.10,295.12 L446.22,293.87 L446.33,292.61 L446.45,291.35 L446.57,290.08 L446.68,288.80 L446.80,287.52 L446.91,286.24 L447.03,284.95 L447.14,283.66 L447.26,282.36 L447.37,281.06 L447.49,279.76 L447.60,278.46 L447.72,277.15 L447.83,275.84 L447.95,274.54 L448.06,273.23 L448.18,271.92 L448.30,270.61 L448.41,269.31 L448.53,268.00 L448.64,266.70 L448.76,265.40 L448.87,264.10 L448.99,262.80 L449.10,261.51 L449.22,260.22 L449.33,258.94 L449.45,257.66 L449.56,256.38 L449.68,255.11 L449.79,253.85 L449.91,252.59 L450.03,251.33 L450.14,250.08 L450.26,248.84 L450.37,247.61 L450.49,246.38 L450.60,245.16 L450.72,243.95 L450.83,242.74 L450.95,241.55 L451.06,240.36 L451.18,239.18 L451.29,238.01 L451.41,236.85 L451.52,235.69 L451.64,234.55 L451.75,233.41 L451.87,232.29 L451.99,231.17 L452.10,230.07 L452.22,228.97 L452.33,227.88 L452.45,226.81 L452.56,225.74 L452.68,224.69 L452.79,223.64 L452.91,222.61 L453.02,221.58 L453.14,220.57 L453.25,219.57 L453.37,218.58 L453.48,217.59 L453.60,216.62 L453.72,215.66 L453.83,214.72 L453.95,213.78 L454.06,212.85 L454.18,211.94 L454.29,211.03 L454.41,210.14 L454.52,209.26 L454.64,208.38 L454.75,207.52 L454.87,206.67 L454.98,205.83 L455.10,205.00 L455.21,204.19 L455.33,203.38 L455.45,202.58 L455.56,201.80 L455.68,201.02 L455.79,200.26 L455.91,199.50 L456.02,198.76 L456.14,198.03 L456.25,197.30 L456.37,196.59 L456.48,195.89 L456.60,195.20 L456.71,194.51 L456.83,193.84 L456.94,193.18 L457.06,192.52 L457.17,191.88 L457.29,191.25 L457.41,190.62 L457.52,190.01 L457.64,189.40 L457.75,188.81 L457.87,188.22 L457.98,187.64 L458.10,187.07 L458.21,186.51 L458.33,185.96 L458.44,185.42 L458.56,184.88 L458.67,184.36 L458.79,183.84 L458.90,183.33 L459.02,182.83 L459.14,182.33 L459.25,181.85 L459.37,181.37 L459.48,180.90 L459.60,180.44 L459.71,179.99 L459.83,179.54 L459.94,179.10 L460.06,178.67 L460.17,178.24 L460.29,177.83 L460.40,177.42 L460.52,177.01 L460.63,176.62 L460.75,176.23 L460.87,175.84 L460.98,175.47 L461.10,175.09 L461.21,174.73 L461.33,174.37 L461.44,174.02 L461.56,173.68 L461.67,173.34 L461.79,173.00 L462.02,172.35 L462.25,171.72 L462.48,171.12 L462.71,170.53 L462.94,169.97 L463.17,169.43 L463.40,168.90 L463.63,168.39 L463.86,167.91 L464.09,167.44 L464.32,166.98 L464.56,166.54 L464.79,166.12 L465.02,165.72 L465.25,165.32 L465.48,164.95 L465.71,164.58 L465.94,164.23 L466.17,163.90 L466.40,163.57 L466.63,163.26 L466.86,162.96 L467.09,162.67 L467.32,162.39 L467.55,162.12 L467.90,161.73 L468.25,161.37 L468.59,161.02 L468.94,160.70 L469.28,160.39 L469.63,160.10 L469.98,159.83 L470.32,159.57 L470.67,159.33 L471.01,159.10 L471.36,158.88 L471.71,158.68 L472.05,158.48 L472.40,158.30 L472.74,158.13 L473.09,157.97 L473.44,157.82 L473.78,157.67 L474.13,157.54 L474.47,157.41 L474.82,157.29 L475.16,157.17 L475.51,157.06 L475.86,156.96 L476.20,156.87 L476.55,156.78 L476.89,156.69 L477.24,156.61 L477.59,156.54 L477.93,156.47 L478.28,156.40 L478.62,156.33 L478.97,156.27 L479.32,156.22 L479.66,156.17 L480.12,156.10 L480.58,156.04 L481.05,155.98 L481.51,155.93 L481.97,155.88 L482.43,155.84 L482.89,155.80 L483.35,155.76 L483.81,155.72 L484.28,155.69 L484.74,155.66 L485.20,155.63 L485.66,155.61 L486.12,155.58 L486.58,155.56 L487.04,155.54 L487.50,155.52 L487.97,155.50 L488.43,155.49 L488.89,155.47 L490.33,155.43 L491.77,155.40 L493.21,155.38 L494.65,155.36 L496.10,155.35 L497.54,155.33 L498.98,155.33 L500.42,155.32 L501.86,155.31 L503.30,155.31 L504.74,155.31 L506.19,155.30 L507.63,155.30 L509.07,155.30 L510.51,155.30 L511.95,155.30 L513.39,155.30 L514.84,155.30 L516.28,155.30" fill="none" stroke="#00ff00" stroke-width="2.40" stroke-linejoin="round" stroke-linecap="round"/>
<path d="M385.10,353.20 L387.98,353.20 L390.87,353.20 L393.75,353.20 L396.63,353.20 L399.52,353.20 L402.40,353.20 L405.28,353.20 L408.16,353.20 L411.05,353.20 L413.93,353.20 L416.81,353.20 L419.70,353.20 L422.58,353.20 L425.46,353.19 L425.92,353.18 L426.38,353.18 L426.85,353.18 L427.31,353.17 L427.77,353.16 L428.23,353.15 L428.69,353.14 L429.15,353.12 L429.61,353.10 L430.07,353.08 L430.54,353.05 L431.00,353.01 L431.46,352.96 L431.92,352.90 L432.27,352.85 L432.61,352.78 L432.96,352.71 L433.30,352.62 L433.65,352.52 L434.00,352.40 L434.34,352.25 L434.69,352.09 L435.03,351.90 L435.38,351.68 L435.73,351.43 L436.07,351.13 L436.42,350.80 L436.76,350.41 L436.99,350.12 L437.22,349.81 L437.46,349.47 L437.69,349.09 L437.92,348.69 L438.15,348.25 L438.38,347.77 L438.61,347.25 L438.84,346.69 L439.07,346.09 L439.30,345.44 L439.42,345.10 L439.53,344.74 L439.65,344.37 L439.76,343.99 L439.88,343.59 L439.99,343.18 L440.11,342.76 L440.22,342.32 L440.34,341.87 L440.45,341.40 L440.57,340.91 L440.68,340.41 L440.80,339.90 L440.91,339.37 L441.03,338.82 L441.15,338.25 L441.26,337.67 L441.38,337.07 L441.49,336.46 L441.61,335.82 L441.72,335.17 L441.84,334.50 L441.95,333.81 L442.07,333.11 L442.18,332.38 L442.30,331.64 L442.41,330.88 L442.53,330.10 L442.64,329.30 L442.76,328.48 L442.88,327.64 L442.99,326.79 L443.11,325.91 L443.22,325.02 L443.34,324.10 L443.45,323.17 L443.57,322.22 L443.68,321.25 L443.80,320.27 L443.91,319.26 L444.03,318.24 L444.14,317.19 L444.26,316.13 L444.37,315.05 L444.49,313.96 L444.61,312.85 L444.72,311.72 L444.84,310.57 L444.95,309.41 L445.07,308.23 L445.18,307.04 L445.30,305.83 L445.41,304.61 L445.53,303.37 L445.64,302.12 L445.76,300.86 L445.87,299.58 L445.99,298.29 L446.10,296.99 L446.22,295.67 L446.33,294.35 L446.45,293.01 L446.57,291.67 L446.68,290.31 L446.80,288.95 L446.91,287.58 L447.03,286.20 L447.14,284.81 L447.26,283.41 L447.37,282.01 L447.49,280.61 L447.60,279.20 L447.72,277.78 L447.83,276.36 L447.95,274.94 L448.06,273.52 L448.18,272.09 L448.30,270.66 L448.41,269.23 L448.53,267.80 L448.64,266.37 L448.76,264.95 L448.87,263.52 L448.99,262.09 L449.10,260.67 L449.22,259.25 L449.33,257.83 L449.45,256.42 L449.56,255.01 L449.68,253.61 L449.79,252.21 L449.91,250.81 L450.03,249.43 L450.14,248.05 L450.26,246.68 L450.37,245.31 L450.49,243.95 L450.60,242.60 L450.72,241.26 L450.83,239.93 L450.95,238.61 L451.06,237.30 L451.18,235.99 L451.29,234.70 L451.41,233.42 L451.52,232.15 L451.64,230.89 L451.75,229.64 L451.87,228.40 L451.99,227.18 L452.10,225.96 L452.22,224.76 L452.33,223.57 L452.45,222.40 L452.56,221.23 L452.68,220.08 L452.79,218.94 L452.91,217.82 L453.02,216.71 L453.14,215.61 L453.25,214.52 L453.37,213.45 L453.48,212.39 L453.60,211.35 L453.72,210.32 L453.83,209.30 L453.95,208.30 L454.06,207.31 L454.18,206.33 L454.29,205.37 L454.41,204.42 L454.52,203.48 L454.64,202.56 L454.75,201.65 L454.87,200.75 L454.98,199.87 L455.10,199.00 L455.21,198.15 L455.33,197.31 L455.45,196.48 L455.56,195.66 L455.68,194.86 L455.79,194.07 L455.91,193.29 L456.02,192.53 L456.14,191.78 L456.25,191.04 L456.37,190.31 L456.48,189.59 L456.60,188.89 L456.71,188.20 L456.83,187.52 L456.94,186.86 L457.06,186.20 L457.17,185.56 L457.29,184.93 L457.41,184.31 L457.52,183.70 L457.64,183.10 L457.75,182.51 L457.87,181.93 L457.98,181.37 L458.10,180.81 L458.21,180.26 L458.33,179.73 L458.44,179.20 L458.56,178.69 L458.67,178.18 L458.79,177.68 L458.90,177.20 L459.02,176.72 L459.14,176.25 L459.25,175.79 L459.37,175.34 L459.48,174.90 L459.60,174.47 L459.71,174.04 L459.83,173.63 L459.94,173.22 L460.06,172.82 L460.17,172.43 L460.29,172.04 L460.40,171.67 L460.52,171.30 L460.63,170.94 L460.75,170.58 L460.87,170.24 L460.98,169.90 L461.10,169.56 L461.33,168.92 L461.56,168.30 L461.79,167.70 L462.02,167.13 L462.25,166.59 L462.48,166.07 L462.71,165.56 L462.94,165.08 L463.17,164.62 L463.40,164.18 L463.63,163.76 L463.86,163.35 L464.09,162.97 L464.32,162.59 L464.56,162.24 L464.79,161.90 L465.02,161.57 L465.25,161.26 L465.48,160.96 L465.71,160.68 L465.94,160.41 L466.29,160.02 L466.63,159.66 L466.98,159.32 L467.32,159.00 L467.67,158.70 L468.02,158.43 L468.36,158.17 L468.71,157.92 L469.05,157.70 L469.40,157.49 L469.74,157.29 L470.09,157.10 L470.44,156.93 L470.78,156.77 L471.13,156.62 L471.47,156.48 L471.82,156.35 L472.17,156.23 L472.51,156.11 L472.86,156.01 L473.20,155.91 L473.55,155.81 L473.90,155.73 L474.24,155.64 L474.59,155.57 L474.93,155.50 L475.28,155.43 L475.63,155.37 L475.97,155.31 L476.32,155.26 L476.78,155.19 L477.24,155.13 L477.70,155.08 L478.16,155.03 L478.62,154.98 L479.09,154.94 L479.55,154.90 L480.01,154.87 L480.47,154.84 L480.93,154.81 L481.39,154.78 L481.85,154.76 L482.31,154.73 L482.78,154.71 L483.24,154.70 L483.70,154.68 L484.16,154.66 L484.62,154.65 L485.08,154.64 L485.54,154.63 L486.00,154.62 L486.47,154.61 L486.93,154.60 L487.39,154.59 L487.85,154.58 L488.31,154.58 L488.77,154.57 L490.33,154.55 L491.77,154.54 L493.21,154.53 L494.65,154.53 L496.10,154.52 L497.54,154.52 L498.98,154.52 L500.42,154.51 L501.86,154.51 L503.30,154.51 L504.74,154.51 L506.19,154.51 L507.63,154.51 L509.07,154.51 L510.51,154.51 L511.95,154.51 L513.39,154.51 L514.84,154.51 L516.28,154.51" fill="none" stroke="#0000ff" stroke-width="2.40" stroke-linejoin="round" stroke-linecap="round"/>
<path d="M385.10,353.20 L387.98,353.20 L390.87,353.20 L393.75,353.20 L396.63,353.20 L399.52,353.20 L402.40,353.20 L405.28,353.20 L408.16,353.20 L411.05,353.20 L413.93,353.20 L416.81,353.20 L419.70,353.20 L422.58,353.19 L425.46,353.17 L425.92,353.17 L426.38,353.16 L426.85,353.15 L427.31,353.14 L427.77,353.13 L428.23,353.11 L428.69,353.09 L429.15,353.06 L429.61,353.03 L430.07,353.00 L430.54,352.95 L431.00,352.89 L431.46,352.82 L431.80,352.76 L432.15,352.69 L432.50,352.61 L432.84,352.51 L433.19,352.40 L433.53,352.27 L433.88,352.12 L434.23,351.95 L434.57,351.75 L434.92,351.52 L435.26,351.25 L435.61,350.95 L435.96,350.61 L436.30,350.21 L436.53,349.91 L436.76,349.59 L436.99,349.24 L437.22,348.86 L437.46,348.44 L437.69,347.99 L437.92,347.50 L438.15,346.96 L438.38,346.38 L438.61,345.76 L438.72,345.42 L438.84,345.08 L438.95,344.72 L439.07,344.35 L439.19,343.96 L439.30,343.56 L439.42,343.15 L439.53,342.71 L439.65,342.27 L439.76,341.80 L439.88,341.32 L439.99,340.83 L440.11,340.31 L440.22,339.78 L440.34,339.23 L440.45,338.66 L440.57,338.07 L440.68,337.46 L440.80,336.84 L440.91,336.19 L441.03,335.52 L441.15,334.83 L441.26,334.12 L441.38,333.39 L441.49,332.64 L441.61,331.86 L441.72,331.06 L441.84,330.25 L441.95,329.40 L442.07,328.54 L442.18,327.65 L442.30,326.74 L442.41,325.80 L442.53,324.84 L442.64,323.86 L442.76,322.86 L442.88,321.83 L442.99,320.77 L443.11,319.70 L443.22,318.60 L443.34,317.48 L443.45,316.33 L443.57,315.16 L443.68,313.97 L443.80,312.75 L443.91,311.51 L444.03,310.25 L444.14,308.97 L444.26,307.67 L444.37,306.35 L444.49,305.00 L444.61,303.64 L444.72,302.25 L444.84,300.85 L444.95,299.43 L445.07,297.99 L445.18,296.53 L445.30,295.06 L445.41,293.57 L445.53,292.06 L445.64,290.54 L445.76,289.01 L445.87,287.46 L445.99,285.90 L446.10,284.33 L446.22,282.74 L446.33,281.15 L446.45,279.55 L446.57,277.94 L446.68,276.32 L446.80,274.70 L446.91,273.07 L447.03,271.43 L447.14,269.79 L447.26,268.15 L447.37,266.51 L447.49,264.86 L447.60,263.21 L447.72,261.57 L447.83,259.92 L447.95,258.28 L448.06,256.64 L448.18,255.00 L448.30,253.37 L448.41,251.75 L448.53,250.12 L448.64,248.51 L448.76,246.90 L448.87,245.31 L448.99,243.72 L449.10,242.14 L449.22,240.57 L449.33,239.01 L449.45,237.46 L449.56,235.93 L449.68,234.40 L449.79,232.89 L449.91,231.40 L450.03,229.92 L450.14,228.45 L450.26,227.00 L450.37,225.56 L450.49,224.14 L450.60,222.74 L450.72,221.35 L450.83,219.98 L450.95,218.62 L451.06,217.29 L451.18,215.97 L451.29,214.67 L451.41,213.38 L451.52,212.12 L451.64,210.87 L451.75,209.65 L451.87,208.44 L451.99,207.25 L452.10,206.07 L452.22,204.92 L452.33,203.79 L452.45,202.67 L452.56,201.57 L452.68,200.49 L452.79,199.44 L452.91,198.39 L453.02,197.37 L453.14,196.37 L453.25,195.38 L453.37,194.42 L453.48,193.47 L453.60,192.54 L453.72,191.63 L453.83,190.73 L453.95,189.85 L454.06,188.99 L454.18,188.15 L454.29,187.33 L454.41,186.52 L454.52,185.73 L454.64,184.95 L454.75,184.19 L454.87,183.45 L454.98,182.72 L455.10,182.01 L455.21,181.32 L455.33,180.64 L455.45,179.97 L455.56,179.32 L455.68,178.68 L455.79,178.06 L455.91,177.45 L456.02,176.86 L456.14,176.28 L456.25,175.71 L456.37,175.16 L456.48,174.62 L456.60,174.09 L456.71,173.57 L456.83,173.07 L456.94,172.58 L457.06,172.10 L457.17,171.63 L457.29,171.17 L457.41,170.73 L457.52,170.29 L457.64,169.87 L457.75,169.45 L457.87,169.05 L457.98,168.65 L458.10,168.27 L458.21,167.89 L458.33,167.53 L458.44,167.17 L458.56,166.82 L458.67,166.49 L458.90,165.83 L459.14,165.21 L459.37,164.63 L459.60,164.07 L459.83,163.54 L460.06,163.03 L460.29,162.56 L460.52,162.10 L460.75,161.67 L460.98,161.27 L461.21,160.88 L461.44,160.51 L461.67,160.17 L461.90,159.84 L462.13,159.53 L462.36,159.23 L462.60,158.95 L462.83,158.69 L463.17,158.32 L463.52,157.98 L463.86,157.66 L464.21,157.37 L464.56,157.11 L464.90,156.86 L465.25,156.63 L465.59,156.43 L465.94,156.23 L466.29,156.06 L466.63,155.90 L466.98,155.75 L467.32,155.61 L467.67,155.48 L468.02,155.37 L468.36,155.26 L468.71,155.16 L469.05,155.07 L469.40,154.99 L469.74,154.92 L470.09,154.85 L470.44,154.78 L470.78,154.72 L471.13,154.67 L471.59,154.60 L472.05,154.54 L472.51,154.49 L472.97,154.44 L473.44,154.40 L473.90,154.37 L474.36,154.33 L474.82,154.30 L475.28,154.28 L475.74,154.25 L476.20,154.23 L476.66,154.21 L477.13,154.19 L477.59,154.18 L478.05,154.17 L478.51,154.15 L478.97,154.14 L479.43,154.13 L479.89,154.12 L480.35,154.12 L480.82,154.11 L481.28,154.10 L481.74,154.10 L482.20,154.09 L482.66,154.09 L483.12,154.09 L483.58,154.08 L484.04,154.08 L484.51,154.08 L484.97,154.07 L485.43,154.07 L485.89,154.07 L486.35,154.07 L486.81,154.07 L487.27,154.06 L487.73,154.06 L488.20,154.06 L488.66,154.06 L490.33,154.06 L491.77,154.06 L493.21,154.06 L494.65,154.06 L496.10,154.05 L497.54,154.05 L498.98,154.05 L500.42,154.05 L501.86,154.05 L503.30,154.05 L504.74,154.05 L506.19,154.05 L507.63,154.05 L509.07,154.05 L510.51,154.05 L511.95,154.05 L513.39,154.05 L514.84,154.05 L516.28,154.05" fill="none" stroke="#800080" stroke-width="2.40" stroke-linejoin="round" stroke-linecap="round"/>
<path d="M612.00,154.60 L612.23,154.45 L612.54,154.25 L612.91,154.00 L613.31,153.73 L613.74,153.46 L614.18,153.20 L614.60,152.98 L615.00,152.80 L615.34,152.67 L615.63,152.57 L615.91,152.50 L616.19,152.44 L616.51,152.40 L616.90,152.37 L617.39,152.33 L618.00,152.30 L618.49,152.27 L618.72,152.24 L618.90,152.23 L619.23,152.22 L619.89,152.21 L621.11,152.21 L623.08,152.20 L626.00,152.20 L630.36,152.20 L636.19,152.19 L642.97,152.19 L650.20,152.19 L657.37,152.20 L663.96,152.20 L669.47,152.20 L673.40,152.20" fill="none" stroke="#0000ff" stroke-width="1.80" stroke-linejoin="round" stroke-linecap="round"/>
<path d="M385.10,353.20 L387.98,353.20 L390.87,353.20 L393.75,353.20 L396.63,353.20 L399.52,353.20 L402.40,353.20 L405.28,353.20 L408.16,353.20 L411.05,353.20 L413.93,353.20 L416.81,353.20 L419.70,353.20 L422.58,353.19 L425.46,353.17 L425.92,353.17 L426.38,353.16 L426.85,353.15 L427.31,353.14 L427.77,353.13 L428.23,353.11 L428.69,353.09 L429.15,353.06 L429.61,353.03 L430.07,352.99 L430.54,352.94 L431.00,352.88 L431.34,352.82 L431.69,352.76 L432.04,352.69 L432.38,352.60 L432.73,352.50 L433.07,352.39 L433.42,352.25 L433.77,352.10 L434.11,351.92 L434.46,351.71 L434.80,351.47 L435.15,351.19 L435.49,350.87 L435.84,350.50 L436.07,350.22 L436.30,349.92 L436.53,349.58 L436.76,349.22 L436.99,348.82 L437.22,348.38 L437.46,347.91 L437.69,347.39 L437.92,346.82 L438.15,346.21 L438.38,345.54 L438.49,345.19 L438.61,344.82 L438.72,344.44 L438.84,344.04 L438.95,343.62 L439.07,343.19 L439.19,342.74 L439.30,342.28 L439.42,341.79 L439.53,341.29 L439.65,340.77 L439.76,340.24 L439.88,339.68 L439.99,339.10 L440.11,338.51 L440.22,337.89 L440.34,337.25 L440.45,336.60 L440.57,335.92 L440.68,335.22 L440.80,334.50 L440.91,333.75 L441.03,332.99 L441.15,332.20 L441.26,331.39 L441.38,330.56 L441.49,329.70 L441.61,328.83 L441.72,327.93 L441.84,327.01 L441.95,326.06 L442.07,325.10 L442.18,324.11 L442.30,323.10 L442.41,322.07 L442.53,321.01 L442.64,319.94 L442.76,318.84 L442.88,317.72 L442.99,316.59 L443.11,315.43 L443.22,314.25 L443.34,313.06 L443.45,311.84 L443.57,310.61 L443.68,309.35 L443.80,308.08 L443.91,306.80 L444.03,305.49 L444.14,304.17 L444.26,302.84 L444.37,301.49 L444.49,300.13 L444.61,298.75 L444.72,297.36 L444.84,295.96 L444.95,294.54 L445.07,293.11 L445.18,291.68 L445.30,290.23 L445.41,288.77 L445.53,287.30 L445.64,285.83 L445.76,284.35 L445.87,282.86 L445.99,281.36 L446.10,279.86 L446.22,278.35 L446.33,276.84 L446.45,275.32 L446.57,273.80 L446.68,272.28 L446.80,270.75 L446.91,269.22 L447.03,267.69 L447.14,266.16 L447.26,264.63 L447.37,263.10 L447.49,261.57 L447.60,260.04 L447.72,258.51 L447.83,256.98 L447.95,255.46 L448.06,253.94 L448.18,252.42 L448.30,250.91 L448.41,249.40 L448.53,247.90 L448.64,246.40 L448.76,244.91 L448.87,243.42 L448.99,241.94 L449.10,240.47 L449.22,239.01 L449.33,237.55 L449.45,236.10 L449.56,234.66 L449.68,233.23 L449.79,231.81 L449.91,230.40 L450.03,229.00 L450.14,227.61 L450.26,226.23 L450.37,224.86 L450.49,223.50 L450.60,222.15 L450.72,220.82 L450.83,219.50 L450.95,218.19 L451.06,216.90 L451.18,215.61 L451.29,214.34 L451.41,213.09 L451.52,211.85 L451.64,210.62 L451.75,209.41 L451.87,208.21 L451.99,207.03 L452.10,205.86 L452.22,204.71 L452.33,203.57 L452.45,202.45 L452.56,201.35 L452.68,200.26 L452.79,199.18 L452.91,198.12 L453.02,197.08 L453.14,196.06 L453.25,195.05 L453.37,194.05 L453.48,193.08 L453.60,192.12 L453.72,191.17 L453.83,190.25 L453.95,189.34 L454.06,188.44 L454.18,187.57 L454.29,186.70 L454.41,185.86 L454.52,185.03 L454.64,184.22 L454.75,183.42 L454.87,182.64 L454.98,181.88 L455.10,181.13 L455.21,180.40 L455.33,179.68 L455.45,178.98 L455.56,178.29 L455.68,177.62 L455.79,176.97 L455.91,176.33 L456.02,175.70 L456.14,175.09 L456.25,174.49 L456.37,173.91 L456.48,173.34 L456.60,172.79 L456.71,172.24 L456.83,171.72 L456.94,171.20 L457.06,170.70 L457.17,170.21 L457.29,169.74 L457.41,169.27 L457.52,168.82 L457.64,168.38 L457.75,167.95 L457.87,167.53 L457.98,167.13 L458.10,166.73 L458.21,166.35 L458.33,165.98 L458.44,165.61 L458.56,165.26 L458.67,164.92 L458.79,164.59 L459.02,163.95 L459.25,163.35 L459.48,162.78 L459.71,162.24 L459.94,161.74 L460.17,161.27 L460.40,160.82 L460.63,160.40 L460.87,160.01 L461.10,159.64 L461.33,159.29 L461.56,158.96 L461.79,158.66 L462.02,158.37 L462.25,158.10 L462.60,157.73 L462.94,157.39 L463.29,157.09 L463.63,156.81 L463.98,156.56 L464.32,156.33 L464.67,156.13 L465.02,155.94 L465.36,155.78 L465.71,155.62 L466.05,155.49 L466.40,155.36 L466.75,155.25 L467.09,155.15 L467.44,155.06 L467.78,154.98 L468.13,154.90 L468.48,154.84 L468.82,154.78 L469.17,154.72 L469.63,154.66 L470.09,154.60 L470.55,154.55 L471.01,154.51 L471.47,154.47 L471.94,154.44 L472.40,154.41 L472.86,154.39 L473.32,154.37 L473.78,154.35 L474.24,154.33 L474.70,154.32 L475.16,154.31 L475.63,154.30 L476.09,154.29 L476.55,154.28 L477.01,154.27 L477.47,154.26 L477.93,154.26 L478.39,154.25 L478.86,154.25 L479.32,154.25 L479.78,154.24 L480.24,154.24 L480.70,154.24 L481.16,154.24 L481.62,154.24 L482.08,154.23 L482.55,154.23 L483.01,154.23 L483.47,154.23 L483.93,154.23 L484.39,154.23 L484.85,154.23 L485.31,154.23 L485.77,154.23 L486.24,154.23 L486.70,154.23 L487.16,154.23 L487.62,154.23 L488.08,154.23 L488.54,154.23 L490.33,154.22 L491.77,154.22 L493.21,154.22 L494.65,154.22 L496.10,154.22 L497.54,154.22 L498.98,154.22 L500.42,154.22 L501.86,154.22 L503.30,154.22 L504.74,154.22 L506.19,154.22 L507.63,154.22 L505.00,154.10 L505.48,154.09 L506.12,154.08 L506.90,154.06 L507.75,154.04 L508.63,154.03 L509.50,154.04 L510.30,154.06 L511.00,154.10 L511.59,154.17 L512.12,154.27 L512.60,154.39 L513.06,154.52 L513.51,154.65 L513.98,154.78 L514.47,154.90 L515.00,155.00 L515.34,155.08 L515.36,155.16 L515.26,155.23 L515.25,155.30 L515.52,155.36 L516.27,155.41 L517.69,155.46 L520.00,155.50 L523.39,155.53 L527.77,155.55 L532.88,155.57 L538.44,155.58 L544.19,155.58 L549.88,155.58 L555.24,155.59 L560.00,155.60 L564.38,155.61 L568.72,155.62 L572.95,155.62 L577.00,155.63 L580.80,155.64 L584.28,155.65 L587.37,155.67 L590.00,155.70 L592.05,155.73 L593.52,155.77 L594.57,155.81 L595.31,155.86 L595.89,155.91 L596.45,155.96 L597.10,156.03 L598.00,156.10 L599.10,156.19 L600.27,156.32 L601.48,156.45 L602.69,156.59 L603.87,156.72 L605.01,156.82 L606.06,156.89 L607.00,156.90 L607.83,156.86 L608.58,156.78 L609.26,156.66 L609.88,156.51 L610.45,156.35 L610.98,156.17 L611.50,155.98 L612.00,155.80 L612.47,155.60 L612.89,155.38 L613.27,155.13 L613.62,154.88 L613.96,154.63 L614.30,154.40 L614.64,154.18 L615.00,154.00 L615.34,153.85 L615.63,153.71 L615.91,153.60 L616.19,153.49 L616.51,153.40 L616.90,153.33 L617.39,153.26 L618.00,153.20 L618.49,153.15 L618.72,153.12 L618.90,153.11 L619.23,153.10 L619.89,153.10 L621.11,153.10 L623.08,153.10 L626.00,153.10 L630.36,153.10 L636.19,153.09 L642.97,153.09 L650.20,153.09 L657.37,153.10 L663.96,153.10 L669.47,153.10 L673.40,153.10" fill="none" stroke="#ff0000" stroke-width="3.00" stroke-linejoin="round" stroke-linecap="round"/>
</g>
<rect x="385.10" y="6.00" width="288.30" height="382.40" fill="none" stroke="#111" stroke-width="1.80"/>
<line x1="447.10" y1="6.00" x2="447.10" y2="388.40" stroke="#111" stroke-width="1.80" stroke-linecap="butt"/>
<line x1="501.30" y1="6.00" x2="501.30" y2="388.40" stroke="#111" stroke-width="1.80" stroke-linecap="butt"/>
<line x1="378.60" y1="6.00" x2="385.10" y2="6.00" stroke="#111" stroke-width="1.80" stroke-linecap="butt"/>
<text x="373.60" y="11.00" font-family='"Liberation Serif", serif' font-weight="bold" font-size="15.00" text-anchor="end">2.0</text>
<line x1="381.60" y1="29.90" x2="385.10" y2="29.90" stroke="#111" stroke-width="1.80" stroke-linecap="butt"/>
<line x1="378.60" y1="53.80" x2="385.10" y2="53.80" stroke="#111" stroke-width="1.80" stroke-linecap="butt"/>
<text x="373.60" y="58.80" font-family='"Liberation Serif", serif' font-weight="bold" font-size="15.00" text-anchor="end">1.5</text>
<line x1="381.60" y1="77.70" x2="385.10" y2="77.70" stroke="#111" stroke-width="1.80" stroke-linecap="butt"/>
<line x1="378.60" y1="101.60" x2="385.10" y2="101.60" stroke="#111" stroke-width="1.80" stroke-linecap="butt"/>
<text x="373.60" y="106.60" font-family='"Liberation Serif", serif' font-weight="bold" font-size="15.00" text-anchor="end">1.0</text>
<line x1="381.60" y1="125.50" x2="385.10" y2="125.50" stroke="#111" stroke-width="1.80" stroke-linecap="butt"/>
<line x1="378.60" y1="149.40" x2="385.10" y2="149.40" stroke="#111" stroke-width="1.80" stroke-linecap="butt"/>
<text x="373.60" y="154.40" font-family='"Liberation Serif", serif' font-weight="bold" font-size="15.00" text-anchor="end">0.5</text>
<line x1="381.60" y1="173.30" x2="385.10" y2="173.30" stroke="#111" stroke-width="1.80" stroke-linecap="butt"/>
<line x1="378.60" y1="197.20" x2="385.10" y2="197.20" stroke="#111" stroke-width="1.80" stroke-linecap="butt"/>
<text x="373.60" y="202.20" font-family='"Liberation Serif", serif' font-weight="bold" font-size="15.00" text-anchor="end">0.0</text>
<line x1="381.60" y1="221.10" x2="385.10" y2="221.10" stroke="#111" stroke-width="1.80" stroke-linecap="butt"/>
<line x1="378.60" y1="245.00" x2="385.10" y2="245.00" stroke="#111" stroke-width="1.80" stroke-linecap="butt"/>
<text x="373.60" y="250.00" font-family='"Liberation Serif", serif' font-weight="bold" font-size="15.00" text-anchor="end">-0.5</text>
<line x1="381.60" y1="268.90" x2="385.10" y2="268.90" stroke="#111" stroke-width="1.80" stroke-linecap="butt"/>
<line x1="378.60" y1="292.80" x2="385.10" y2="292.80" stroke="#111" stroke-width="1.80" stroke-linecap="butt"/>
<text x="373.60" y="297.80" font-family='"Liberation Serif", serif' font-weight="bold" font-size="15.00" text-anchor="end">-1.0</text>
<line x1="381.60" y1="316.70" x2="385.10" y2="316.70" stroke="#111" stroke-width="1.80" stroke-linecap="butt"/>
<line x1="378.60" y1="340.60" x2="385.10" y2="340.60" stroke="#111" stroke-width="1.80" stroke-linecap="butt"/>
<text x="373.60" y="345.60" font-family='"Liberation Serif", serif' font-weight="bold" font-size="15.00" text-anchor="end">-1.5</text>
<line x1="381.60" y1="364.50" x2="385.10" y2="364.50" stroke="#111" stroke-width="1.80" stroke-linecap="butt"/>
<line x1="378.60" y1="388.40" x2="385.10" y2="388.40" stroke="#111" stroke-width="1.80" stroke-linecap="butt"/>
<text x="373.60" y="393.40" font-family='"Liberation Serif", serif' font-weight="bold" font-size="15.00" text-anchor="end">-2.0</text>
<line x1="385.10" y1="388.40" x2="385.10" y2="394.90" stroke="#111" stroke-width="1.80" stroke-linecap="butt"/>
<text x="385.10" y="411.40" font-family='"Liberation Serif", serif' font-weight="bold" font-size="15.00" text-anchor="middle">20</text>
<line x1="413.93" y1="388.40" x2="413.93" y2="392.00" stroke="#111" stroke-width="1.80" stroke-linecap="butt"/>
<line x1="442.76" y1="388.40" x2="442.76" y2="394.90" stroke="#111" stroke-width="1.80" stroke-linecap="butt"/>
<text x="442.76" y="411.40" font-family='"Liberation Serif", serif' font-weight="bold" font-size="15.00" text-anchor="middle">40</text>
<line x1="471.59" y1="388.40" x2="471.59" y2="392.00" stroke="#111" stroke-width="1.80" stroke-linecap="butt"/>
<line x1="500.42" y1="388.40" x2="500.42" y2="394.90" stroke="#111" stroke-width="1.80" stroke-linecap="butt"/>
<text x="500.42" y="411.40" font-family='"Liberation Serif", serif' font-weight="bold" font-size="15.00" text-anchor="middle">60</text>
<line x1="529.25" y1="388.40" x2="529.25" y2="392.00" stroke="#111" stroke-width="1.80" stroke-linecap="butt"/>
<line x1="558.08" y1="388.40" x2="558.08" y2="394.90" stroke="#111" stroke-width="1.80" stroke-linecap="butt"/>
<text x="558.08" y="411.40" font-family='"Liberation Serif", serif' font-weight="bold" font-size="15.00" text-anchor="middle">80</text>
<line x1="586.91" y1="388.40" x2="586.91" y2="392.00" stroke="#111" stroke-width="1.80" stroke-linecap="butt"/>
<line x1="615.74" y1="388.40" x2="615.74" y2="394.90" stroke="#111" stroke-width="1.80" stroke-linecap="butt"/>
<text x="615.74" y="411.40" font-family='"Liberation Serif", serif' font-weight="bold" font-size="15.00" text-anchor="middle">100</text>
<line x1="644.57" y1="388.40" x2="644.57" y2="392.00" stroke="#111" stroke-width="1.80" stroke-linecap="butt"/>
<line x1="673.40" y1="388.40" x2="673.40" y2="394.90" stroke="#111" stroke-width="1.80" stroke-linecap="butt"/>
<text x="673.40" y="411.40" font-family='"Liberation Serif", serif' font-weight="bold" font-size="15.00" text-anchor="middle">120</text>
<text x="393.40" y="432.90" font-family='"Liberation Serif", serif' font-weight="bold" font-size="17.50" text-anchor="start">Length along the Channel, X<tspan font-size="12.2" dx="3.3" dy="5">ch</tspan><tspan dx="3.8" dy="-5">(nm)</tspan></text>
<text x="401.40" y="44.40" font-family='"Liberation Sans", sans-serif' font-weight="bold" font-size="20.30" text-anchor="start" style="stroke-width:0.15px">(b)</text>
<text x="396.20" y="138.40" font-family='"Liberation Serif", serif' font-weight="bold" font-size="15.60" text-anchor="start">Increase in Charge-density</text>
<text x="457.20" y="304.50" font-family='"Liberation Serif", serif' font-weight="bold" font-size="18.00" text-anchor="start">L</text>
<text x="468.50" y="309.00" font-family='"Liberation Serif", serif' font-weight="bold" font-size="12.20" text-anchor="start">cavity</text>
<line x1="464.40" y1="151.48" x2="493.70" y2="187.50" stroke="#111" stroke-width="2.50" stroke-linecap="butt"/>
<polygon points="456.52,141.79 461.78,154.91 468.29,149.61" fill="#111" stroke="#111" stroke-width="0.8" stroke-linejoin="round"/>
<rect x="517.3" y="12.4" width="149.3" height="110.3" fill="#fff" stroke="#4d4d4d" stroke-width="1.0"/>
<line x1="518.20" y1="24.10" x2="558.60" y2="24.10" stroke="#000000" stroke-width="2.60" stroke-linecap="butt"/>
<text x="562.40" y="30.90" font-family='"Liberation Serif", serif' font-weight="bold" font-size="16.50" text-anchor="start">k=5, &#961; = -1e12</text>
<line x1="518.20" y1="45.70" x2="558.60" y2="45.70" stroke="#00ff00" stroke-width="2.60" stroke-linecap="butt"/>
<text x="562.40" y="52.40" font-family='"Liberation Serif", serif' font-weight="bold" font-size="16.50" text-anchor="start">k=5, &#961; = -5e11</text>
<line x1="518.20" y1="67.30" x2="558.60" y2="67.30" stroke="#0000ff" stroke-width="2.60" stroke-linecap="butt"/>
<text x="562.40" y="73.90" font-family='"Liberation Serif", serif' font-weight="bold" font-size="16.50" text-anchor="start">k=5, &#961; = 0</text>
<line x1="518.20" y1="88.90" x2="558.60" y2="88.90" stroke="#800080" stroke-width="2.60" stroke-linecap="butt"/>
<text x="562.40" y="95.40" font-family='"Liberation Serif", serif' font-weight="bold" font-size="16.50" text-anchor="start">k=5, &#961; = 5e11</text>
<line x1="518.20" y1="110.50" x2="558.60" y2="110.50" stroke="#ff0000" stroke-width="2.60" stroke-linecap="butt"/>
<text x="562.40" y="116.90" font-family='"Liberation Serif", serif' font-weight="bold" font-size="16.50" text-anchor="start">k=5, &#961; = 1e12</text>
<rect x="525.50" y="168.10" width="139.50" height="193.10" fill="#fff" stroke="none"/>
<clipPath id="ic"><rect x="525.50" y="168.10" width="139.50" height="193.10"/></clipPath>
<g clip-path="url(#ic)">
<path d="M520.56,410.21 L521.15,408.68 L521.74,407.16 L522.34,405.63 L522.93,404.10 L523.52,402.58 L524.11,401.05 L524.70,399.53 L525.30,398.00 L525.89,396.48 L526.48,394.96 L527.07,393.44 L527.66,391.92 L528.26,390.40 L528.85,388.89 L529.44,387.38 L530.03,385.86 L530.62,384.36 L531.22,382.85 L531.81,381.35 L532.40,379.85 L532.99,378.35 L533.58,376.85 L534.18,375.36 L534.77,373.87 L535.36,372.39 L535.95,370.91 L536.54,369.43 L537.14,367.95 L537.73,366.48 L538.32,365.02 L538.91,363.56 L539.50,362.10 L540.10,360.65 L540.69,359.20 L541.28,357.76 L541.87,356.32 L542.46,354.89 L543.06,353.46 L543.65,352.04 L544.24,350.62 L544.83,349.21 L545.42,347.80 L546.02,346.40 L546.61,345.01 L547.20,343.62 L547.79,342.24 L548.38,340.87 L548.98,339.50 L549.57,338.14 L550.16,336.79 L550.75,335.44 L551.34,334.10 L551.94,332.77 L552.53,331.44 L553.12,330.13 L553.71,328.82 L554.30,327.51 L554.90,326.22 L555.49,324.93 L556.08,323.65 L556.67,322.38 L557.26,321.12 L557.86,319.86 L558.45,318.62 L559.04,317.38 L559.63,316.15 L560.22,314.93 L560.82,313.72 L561.41,312.51 L562.00,311.32 L562.59,310.14 L563.18,308.96 L563.78,307.79 L564.37,306.63 L564.96,305.48 L565.55,304.34 L566.14,303.21 L566.74,302.09 L567.33,300.98 L567.92,299.88 L568.51,298.79 L569.10,297.70 L569.70,296.63 L570.29,295.57 L570.88,294.51 L571.47,293.47 L572.06,292.43 L572.66,291.41 L573.25,290.39 L573.84,289.39 L574.43,288.39 L575.02,287.41 L575.62,286.43 L576.21,285.46 L576.80,284.51 L577.39,283.56 L577.98,282.62 L578.58,281.70 L579.17,280.78 L579.76,279.87 L580.35,278.98 L580.94,278.09 L581.54,277.21 L582.13,276.34 L582.72,275.48 L583.31,274.64 L583.90,273.80 L584.50,272.97 L585.09,272.15 L585.68,271.34 L586.27,270.54 L586.86,269.75 L587.46,268.97 L588.05,268.19 L588.64,267.43 L589.23,266.68 L589.82,265.93 L590.42,265.20 L591.01,264.47 L591.60,263.76 L592.19,263.05 L592.78,262.35 L593.38,261.66 L593.97,260.98 L594.56,260.31 L595.15,259.65 L595.74,259.00 L596.34,258.35 L596.93,257.71 L597.52,257.09 L598.11,256.47 L598.70,255.86 L599.30,255.26 L599.89,254.66 L600.48,254.08 L601.07,253.50 L601.66,252.93 L602.26,252.37 L602.85,251.81 L603.44,251.27 L604.03,250.73 L604.62,250.20 L605.22,249.68 L605.81,249.16 L606.40,248.66 L606.99,248.16 L607.58,247.66 L608.18,247.18 L608.77,246.70 L609.36,246.23 L609.95,245.77 L610.54,245.31 L611.14,244.86 L611.73,244.42 L612.32,243.98 L612.91,243.55 L613.50,243.13 L614.10,242.71 L614.69,242.30 L615.28,241.90 L615.87,241.50 L616.46,241.11 L617.06,240.72 L617.65,240.34 L618.24,239.97 L618.83,239.60 L619.42,239.24 L620.02,238.89 L620.61,238.54 L621.20,238.19 L621.79,237.85 L622.38,237.52 L622.98,237.19 L623.57,236.87 L624.16,236.55 L624.75,236.24 L625.34,235.93 L625.94,235.63 L626.53,235.33 L627.12,235.04 L627.71,234.75 L628.30,234.47 L628.90,234.19 L629.49,233.92 L630.08,233.65 L630.67,233.39 L631.26,233.13 L631.86,232.87 L632.45,232.62 L633.04,232.37 L633.63,232.13 L634.22,231.89 L634.82,231.66 L635.41,231.43 L636.00,231.20 L636.59,230.98 L637.18,230.76 L637.78,230.54 L638.37,230.33 L638.96,230.12 L639.55,229.92 L640.14,229.72 L640.74,229.52 L641.33,229.33 L641.92,229.14 L642.51,228.95 L643.10,228.77 L643.70,228.59 L644.29,228.41 L644.88,228.23 L645.47,228.06 L646.06,227.89 L646.66,227.73 L647.25,227.57 L647.84,227.41 L648.43,227.25 L649.02,227.10 L649.62,226.94 L650.21,226.79 L650.80,226.65 L651.39,226.51 L651.98,226.36 L652.58,226.23 L653.17,226.09 L653.76,225.96 L654.35,225.83 L654.94,225.70 L655.54,225.57 L656.13,225.45 L656.72,225.32 L657.31,225.20 L657.90,225.09 L658.50,224.97 L659.09,224.86 L659.68,224.75 L660.27,224.64 L660.86,224.53 L661.46,224.42 L662.05,224.32 L662.64,224.22 L663.23,224.12 L663.82,224.02 L664.42,223.92 L665.01,223.83 L665.60,223.73 L666.19,223.64 L666.78,223.55 L667.38,223.47 L667.97,223.38 L668.56,223.30 L669.15,223.21 L669.74,223.13" fill="none" stroke="#000000" stroke-width="1.20" stroke-linejoin="round" stroke-linecap="round"/>
<path d="M520.56,389.95 L521.15,388.33 L521.74,386.70 L522.34,385.07 L522.93,383.44 L523.52,381.82 L524.11,380.19 L524.70,378.57 L525.30,376.95 L525.89,375.33 L526.48,373.71 L527.07,372.10 L527.66,370.48 L528.26,368.87 L528.85,367.26 L529.44,365.65 L530.03,364.04 L530.62,362.44 L531.22,360.84 L531.81,359.25 L532.40,357.65 L532.99,356.06 L533.58,354.47 L534.18,352.89 L534.77,351.31 L535.36,349.74 L535.95,348.17 L536.54,346.60 L537.14,345.04 L537.73,343.48 L538.32,341.92 L538.91,340.38 L539.50,338.83 L540.10,337.30 L540.69,335.76 L541.28,334.24 L541.87,332.72 L542.46,331.20 L543.06,329.70 L543.65,328.19 L544.24,326.70 L544.83,325.21 L545.42,323.73 L546.02,322.26 L546.61,320.79 L547.20,319.33 L547.79,317.88 L548.38,316.44 L548.98,315.01 L549.57,313.58 L550.16,312.16 L550.75,310.76 L551.34,309.36 L551.94,307.97 L552.53,306.58 L553.12,305.21 L553.71,303.85 L554.30,302.50 L554.90,301.16 L555.49,299.83 L556.08,298.50 L556.67,297.19 L557.26,295.89 L557.86,294.60 L558.45,293.33 L559.04,292.06 L559.63,290.80 L560.22,289.56 L560.82,288.33 L561.41,287.10 L562.00,285.90 L562.59,284.70 L563.18,283.51 L563.78,282.34 L564.37,281.18 L564.96,280.03 L565.55,278.90 L566.14,277.78 L566.74,276.67 L567.33,275.57 L567.92,274.48 L568.51,273.41 L569.10,272.35 L569.70,271.31 L570.29,270.28 L570.88,269.26 L571.47,268.25 L572.06,267.26 L572.66,266.28 L573.25,265.32 L573.84,264.36 L574.43,263.42 L575.02,262.50 L575.62,261.59 L576.21,260.69 L576.80,259.80 L577.39,258.93 L577.98,258.07 L578.58,257.23 L579.17,256.39 L579.76,255.57 L580.35,254.77 L580.94,253.97 L581.54,253.19 L582.13,252.43 L582.72,251.67 L583.31,250.93 L583.90,250.20 L584.50,249.49 L585.09,248.78 L585.68,248.09 L586.27,247.41 L586.86,246.75 L587.46,246.09 L588.05,245.45 L588.64,244.82 L589.23,244.20 L589.82,243.60 L590.42,243.00 L591.01,242.42 L591.60,241.84 L592.19,241.28 L592.78,240.73 L593.38,240.19 L593.97,239.67 L594.56,239.15 L595.15,238.64 L595.74,238.14 L596.34,237.66 L596.93,237.18 L597.52,236.72 L598.11,236.26 L598.70,235.81 L599.30,235.37 L599.89,234.95 L600.48,234.53 L601.07,234.12 L601.66,233.72 L602.26,233.33 L602.85,232.94 L603.44,232.57 L604.03,232.20 L604.62,231.84 L605.22,231.49 L605.81,231.15 L606.40,230.82 L606.99,230.49 L607.58,230.17 L608.18,229.86 L608.77,229.56 L609.36,229.26 L609.95,228.97 L610.54,228.69 L611.14,228.41 L611.73,228.14 L612.32,227.87 L612.91,227.62 L613.50,227.37 L614.10,227.12 L614.69,226.88 L615.28,226.65 L615.87,226.42 L616.46,226.20 L617.06,225.98 L617.65,225.77 L618.24,225.56 L618.83,225.36 L619.42,225.16 L620.02,224.97 L620.61,224.79 L621.20,224.60 L621.79,224.43 L622.38,224.25 L622.98,224.08 L623.57,223.92 L624.16,223.76 L624.75,223.60 L625.34,223.45 L625.94,223.30 L626.53,223.16 L627.12,223.01 L627.71,222.88 L628.30,222.74 L628.90,222.61 L629.49,222.49 L630.08,222.36 L630.67,222.24 L631.26,222.12 L631.86,222.01 L632.45,221.90 L633.04,221.79 L633.63,221.68 L634.22,221.58 L634.82,221.48 L635.41,221.38 L636.00,221.28 L636.59,221.19 L637.18,221.10 L637.78,221.01 L638.37,220.93 L638.96,220.84 L639.55,220.76 L640.14,220.68 L640.74,220.61 L641.33,220.53 L641.92,220.46 L642.51,220.39 L643.10,220.32 L643.70,220.25 L644.29,220.19 L644.88,220.12 L645.47,220.06 L646.06,220.00 L646.66,219.94 L647.25,219.88 L647.84,219.83 L648.43,219.77 L649.02,219.72 L649.62,219.67 L650.21,219.62 L650.80,219.57 L651.39,219.52 L651.98,219.47 L652.58,219.43 L653.17,219.39 L653.76,219.34 L654.35,219.30 L654.94,219.26 L655.54,219.22 L656.13,219.18 L656.72,219.15 L657.31,219.11 L657.90,219.08 L658.50,219.04 L659.09,219.01 L659.68,218.98 L660.27,218.94 L660.86,218.91 L661.46,218.88 L662.05,218.85 L662.64,218.83 L663.23,218.80 L663.82,218.77 L664.42,218.75 L665.01,218.72 L665.60,218.70 L666.19,218.67 L666.78,218.65 L667.38,218.63 L667.97,218.60 L668.56,218.58 L669.15,218.56 L669.74,218.54" fill="none" stroke="#00ff00" stroke-width="1.20" stroke-linejoin="round" stroke-linecap="round"/>
<path d="M520.56,388.73 L521.15,386.70 L521.74,384.67 L522.34,382.64 L522.93,380.61 L523.52,378.59 L524.11,376.58 L524.70,374.56 L525.30,372.56 L525.89,370.55 L526.48,368.56 L527.07,366.57 L527.66,364.58 L528.26,362.60 L528.85,360.63 L529.44,358.66 L530.03,356.70 L530.62,354.75 L531.22,352.80 L531.81,350.87 L532.40,348.94 L532.99,347.02 L533.58,345.11 L534.18,343.20 L534.77,341.31 L535.36,339.43 L535.95,337.55 L536.54,335.69 L537.14,333.84 L537.73,331.99 L538.32,330.16 L538.91,328.34 L539.50,326.54 L540.10,324.74 L540.69,322.95 L541.28,321.18 L541.87,319.42 L542.46,317.68 L543.06,315.95 L543.65,314.23 L544.24,312.52 L544.83,310.83 L545.42,309.16 L546.02,307.49 L546.61,305.85 L547.20,304.22 L547.79,302.60 L548.38,301.00 L548.98,299.41 L549.57,297.84 L550.16,296.29 L550.75,294.76 L551.34,293.24 L551.94,291.73 L552.53,290.25 L553.12,288.78 L553.71,287.33 L554.30,285.89 L554.90,284.48 L555.49,283.08 L556.08,281.70 L556.67,280.33 L557.26,278.99 L557.86,277.66 L558.45,276.35 L559.04,275.06 L559.63,273.79 L560.22,272.53 L560.82,271.30 L561.41,270.08 L562.00,268.88 L562.59,267.70 L563.18,266.53 L563.78,265.39 L564.37,264.26 L564.96,263.16 L565.55,262.07 L566.14,261.00 L566.74,259.94 L567.33,258.91 L567.92,257.89 L568.51,256.89 L569.10,255.91 L569.70,254.95 L570.29,254.00 L570.88,253.07 L571.47,252.16 L572.06,251.27 L572.66,250.39 L573.25,249.53 L573.84,248.69 L574.43,247.86 L575.02,247.05 L575.62,246.26 L576.21,245.48 L576.80,244.72 L577.39,243.97 L577.98,243.24 L578.58,242.53 L579.17,241.83 L579.76,241.14 L580.35,240.47 L580.94,239.81 L581.54,239.17 L582.13,238.55 L582.72,237.93 L583.31,237.33 L583.90,236.75 L584.50,236.17 L585.09,235.62 L585.68,235.07 L586.27,234.53 L586.86,234.01 L587.46,233.50 L588.05,233.01 L588.64,232.52 L589.23,232.05 L589.82,231.58 L590.42,231.13 L591.01,230.69 L591.60,230.26 L592.19,229.84 L592.78,229.43 L593.38,229.04 L593.97,228.65 L594.56,228.27 L595.15,227.90 L595.74,227.54 L596.34,227.19 L596.93,226.84 L597.52,226.51 L598.11,226.18 L598.70,225.87 L599.30,225.56 L599.89,225.26 L600.48,224.96 L601.07,224.68 L601.66,224.40 L602.26,224.13 L602.85,223.87 L603.44,223.61 L604.03,223.36 L604.62,223.12 L605.22,222.88 L605.81,222.65 L606.40,222.43 L606.99,222.21 L607.58,222.00 L608.18,221.79 L608.77,221.59 L609.36,221.39 L609.95,221.20 L610.54,221.02 L611.14,220.84 L611.73,220.66 L612.32,220.49 L612.91,220.32 L613.50,220.16 L614.10,220.01 L614.69,219.85 L615.28,219.71 L615.87,219.56 L616.46,219.42 L617.06,219.28 L617.65,219.15 L618.24,219.02 L618.83,218.90 L619.42,218.78 L620.02,218.66 L620.61,218.54 L621.20,218.43 L621.79,218.32 L622.38,218.22 L622.98,218.11 L623.57,218.01 L624.16,217.92 L624.75,217.82 L625.34,217.73 L625.94,217.64 L626.53,217.55 L627.12,217.47 L627.71,217.39 L628.30,217.31 L628.90,217.23 L629.49,217.16 L630.08,217.08 L630.67,217.01 L631.26,216.94 L631.86,216.88 L632.45,216.81 L633.04,216.75 L633.63,216.69 L634.22,216.63 L634.82,216.57 L635.41,216.51 L636.00,216.46 L636.59,216.41 L637.18,216.35 L637.78,216.30 L638.37,216.26 L638.96,216.21 L639.55,216.16 L640.14,216.12 L640.74,216.08 L641.33,216.03 L641.92,215.99 L642.51,215.95 L643.10,215.91 L643.70,215.88 L644.29,215.84 L644.88,215.81 L645.47,215.77 L646.06,215.74 L646.66,215.71 L647.25,215.67 L647.84,215.64 L648.43,215.61 L649.02,215.59 L649.62,215.56 L650.21,215.53 L650.80,215.50 L651.39,215.48 L651.98,215.45 L652.58,215.43 L653.17,215.41 L653.76,215.38 L654.35,215.36 L654.94,215.34 L655.54,215.32 L656.13,215.30 L656.72,215.28 L657.31,215.26 L657.90,215.24 L658.50,215.22 L659.09,215.21 L659.68,215.19 L660.27,215.17 L660.86,215.16 L661.46,215.14 L662.05,215.13 L662.64,215.11 L663.23,215.10 L663.82,215.08 L664.42,215.07 L665.01,215.06 L665.60,215.05 L666.19,215.03 L666.78,215.02 L667.38,215.01 L667.97,215.00 L668.56,214.99 L669.15,214.98 L669.74,214.97" fill="none" stroke="#0000ff" stroke-width="1.20" stroke-linejoin="round" stroke-linecap="round"/>
<path d="M520.56,347.79 L521.15,345.64 L521.74,343.50 L522.34,341.37 L522.93,339.25 L523.52,337.14 L524.11,335.04 L524.70,332.94 L525.30,330.87 L525.89,328.80 L526.48,326.74 L527.07,324.70 L527.66,322.67 L528.26,320.65 L528.85,318.65 L529.44,316.66 L530.03,314.69 L530.62,312.73 L531.22,310.79 L531.81,308.87 L532.40,306.96 L532.99,305.07 L533.58,303.19 L534.18,301.34 L534.77,299.50 L535.36,297.68 L535.95,295.88 L536.54,294.10 L537.14,292.34 L537.73,290.60 L538.32,288.88 L538.91,287.18 L539.50,285.50 L540.10,283.85 L540.69,282.21 L541.28,280.60 L541.87,279.01 L542.46,277.44 L543.06,275.90 L543.65,274.38 L544.24,272.88 L544.83,271.40 L545.42,269.95 L546.02,268.52 L546.61,267.12 L547.20,265.74 L547.79,264.38 L548.38,263.05 L548.98,261.74 L549.57,260.46 L550.16,259.20 L550.75,257.96 L551.34,256.75 L551.94,255.56 L552.53,254.40 L553.12,253.26 L553.71,252.14 L554.30,251.05 L554.90,249.98 L555.49,248.93 L556.08,247.90 L556.67,246.90 L557.26,245.92 L557.86,244.97 L558.45,244.04 L559.04,243.12 L559.63,242.23 L560.22,241.37 L560.82,240.52 L561.41,239.69 L562.00,238.89 L562.59,238.10 L563.18,237.34 L563.78,236.59 L564.37,235.86 L564.96,235.16 L565.55,234.47 L566.14,233.80 L566.74,233.15 L567.33,232.51 L567.92,231.90 L568.51,231.30 L569.10,230.71 L569.70,230.15 L570.29,229.60 L570.88,229.06 L571.47,228.54 L572.06,228.04 L572.66,227.55 L573.25,227.07 L573.84,226.61 L574.43,226.17 L575.02,225.73 L575.62,225.31 L576.21,224.90 L576.80,224.51 L577.39,224.12 L577.98,223.75 L578.58,223.39 L579.17,223.04 L579.76,222.70 L580.35,222.37 L580.94,222.06 L581.54,221.75 L582.13,221.45 L582.72,221.16 L583.31,220.88 L583.90,220.61 L584.50,220.35 L585.09,220.10 L585.68,219.85 L586.27,219.61 L586.86,219.38 L587.46,219.16 L588.05,218.95 L588.64,218.74 L589.23,218.54 L589.82,218.35 L590.42,218.16 L591.01,217.98 L591.60,217.80 L592.19,217.63 L592.78,217.47 L593.38,217.31 L593.97,217.15 L594.56,217.01 L595.15,216.86 L595.74,216.72 L596.34,216.59 L596.93,216.46 L597.52,216.34 L598.11,216.22 L598.70,216.10 L599.30,215.99 L599.89,215.88 L600.48,215.77 L601.07,215.67 L601.66,215.57 L602.26,215.48 L602.85,215.39 L603.44,215.30 L604.03,215.21 L604.62,215.13 L605.22,215.05 L605.81,214.98 L606.40,214.90 L606.99,214.83 L607.58,214.76 L608.18,214.69 L608.77,214.63 L609.36,214.57 L609.95,214.51 L610.54,214.45 L611.14,214.39 L611.73,214.34 L612.32,214.29 L612.91,214.24 L613.50,214.19 L614.10,214.14 L614.69,214.10 L615.28,214.05 L615.87,214.01 L616.46,213.97 L617.06,213.93 L617.65,213.89 L618.24,213.86 L618.83,213.82 L619.42,213.79 L620.02,213.76 L620.61,213.72 L621.20,213.69 L621.79,213.66 L622.38,213.64 L622.98,213.61 L623.57,213.58 L624.16,213.56 L624.75,213.53 L625.34,213.51 L625.94,213.48 L626.53,213.46 L627.12,213.44 L627.71,213.42 L628.30,213.40 L628.90,213.38 L629.49,213.36 L630.08,213.34 L630.67,213.33 L631.26,213.31 L631.86,213.29 L632.45,213.28 L633.04,213.26 L633.63,213.25 L634.22,213.24 L634.82,213.22 L635.41,213.21 L636.00,213.20 L636.59,213.19 L637.18,213.17 L637.78,213.16 L638.37,213.15 L638.96,213.14 L639.55,213.13 L640.14,213.12 L640.74,213.11 L641.33,213.10 L641.92,213.09 L642.51,213.09 L643.10,213.08 L643.70,213.07 L644.29,213.06 L644.88,213.05 L645.47,213.05 L646.06,213.04 L646.66,213.03 L647.25,213.03 L647.84,213.02 L648.43,213.02 L649.02,213.01 L649.62,213.00 L650.21,213.00 L650.80,212.99 L651.39,212.99 L651.98,212.98 L652.58,212.98 L653.17,212.98 L653.76,212.97 L654.35,212.97 L654.94,212.96 L655.54,212.96 L656.13,212.96 L656.72,212.95 L657.31,212.95 L657.90,212.95 L658.50,212.94 L659.09,212.94 L659.68,212.94 L660.27,212.93 L660.86,212.93 L661.46,212.93 L662.05,212.93 L662.64,212.92 L663.23,212.92 L663.82,212.92 L664.42,212.92 L665.01,212.91 L665.60,212.91 L666.19,212.91 L666.78,212.91 L667.38,212.91 L667.97,212.90 L668.56,212.90 L669.15,212.90 L669.74,212.90" fill="none" stroke="#800080" stroke-width="1.20" stroke-linejoin="round" stroke-linecap="round"/>
<path d="M520.56,349.31 L521.15,347.07 L521.74,344.84 L522.34,342.61 L522.93,340.39 L523.52,338.18 L524.11,335.97 L524.70,333.77 L525.30,331.58 L525.89,329.40 L526.48,327.22 L527.07,325.06 L527.66,322.91 L528.26,320.77 L528.85,318.64 L529.44,316.52 L530.03,314.42 L530.62,312.33 L531.22,310.25 L531.81,308.19 L532.40,306.14 L532.99,304.11 L533.58,302.10 L534.18,300.11 L534.77,298.13 L535.36,296.17 L535.95,294.23 L536.54,292.31 L537.14,290.41 L537.73,288.54 L538.32,286.68 L538.91,284.85 L539.50,283.04 L540.10,281.25 L540.69,279.49 L541.28,277.75 L541.87,276.03 L542.46,274.34 L543.06,272.68 L543.65,271.04 L544.24,269.43 L544.83,267.85 L545.42,266.29 L546.02,264.76 L546.61,263.26 L547.20,261.79 L547.79,260.35 L548.38,258.93 L548.98,257.54 L549.57,256.18 L550.16,254.85 L550.75,253.55 L551.34,252.28 L551.94,251.03 L552.53,249.82 L553.12,248.63 L553.71,247.47 L554.30,246.34 L554.90,245.24 L555.49,244.16 L556.08,243.12 L556.67,242.10 L557.26,241.11 L557.86,240.14 L558.45,239.21 L559.04,238.30 L559.63,237.41 L560.22,236.55 L560.82,235.72 L561.41,234.91 L562.00,234.12 L562.59,233.36 L563.18,232.62 L563.78,231.91 L564.37,231.22 L564.96,230.55 L565.55,229.90 L566.14,229.27 L566.74,228.66 L567.33,228.08 L567.92,227.51 L568.51,226.96 L569.10,226.43 L569.70,225.92 L570.29,225.43 L570.88,224.95 L571.47,224.50 L572.06,224.05 L572.66,223.63 L573.25,223.21 L573.84,222.82 L574.43,222.44 L575.02,222.07 L575.62,221.71 L576.21,221.37 L576.80,221.04 L577.39,220.73 L577.98,220.42 L578.58,220.13 L579.17,219.85 L579.76,219.58 L580.35,219.32 L580.94,219.07 L581.54,218.82 L582.13,218.59 L582.72,218.37 L583.31,218.16 L583.90,217.95 L584.50,217.75 L585.09,217.56 L585.68,217.38 L586.27,217.21 L586.86,217.04 L587.46,216.88 L588.05,216.72 L588.64,216.57 L589.23,216.43 L589.82,216.29 L590.42,216.16 L591.01,216.04 L591.60,215.92 L592.19,215.80 L592.78,215.69 L593.38,215.58 L593.97,215.48 L594.56,215.38 L595.15,215.29 L595.74,215.20 L596.34,215.11 L596.93,215.02 L597.52,214.95 L598.11,214.87 L598.70,214.80 L599.30,214.72 L599.89,214.66 L600.48,214.59 L601.07,214.53 L601.66,214.47 L602.26,214.41 L602.85,214.36 L603.44,214.31 L604.03,214.26 L604.62,214.21 L605.22,214.16 L605.81,214.12 L606.40,214.08 L606.99,214.04 L607.58,214.00 L608.18,213.96 L608.77,213.92 L609.36,213.89 L609.95,213.86 L610.54,213.83 L611.14,213.80 L611.73,213.77 L612.32,213.74 L612.91,213.71 L613.50,213.69 L614.10,213.66 L614.69,213.64 L615.28,213.62 L615.87,213.60 L616.46,213.58 L617.06,213.56 L617.65,213.54 L618.24,213.52 L618.83,213.50 L619.42,213.49 L620.02,213.47 L620.61,213.45 L621.20,213.44 L621.79,213.43 L622.38,213.41 L622.98,213.40 L623.57,213.39 L624.16,213.38 L624.75,213.36 L625.34,213.35 L625.94,213.34 L626.53,213.33 L627.12,213.32 L627.71,213.32 L628.30,213.31 L628.90,213.30 L629.49,213.29 L630.08,213.28 L630.67,213.28 L631.26,213.27 L631.86,213.26 L632.45,213.26 L633.04,213.25 L633.63,213.24 L634.22,213.24 L634.82,213.23 L635.41,213.23 L636.00,213.22 L636.59,213.22 L637.18,213.21 L637.78,213.21 L638.37,213.20 L638.96,213.20 L639.55,213.20 L640.14,213.19 L640.74,213.19 L641.33,213.19 L641.92,213.18 L642.51,213.18 L643.10,213.18 L643.70,213.17 L644.29,213.17 L644.88,213.17 L645.47,213.17 L646.06,213.16 L646.66,213.16 L647.25,213.16 L647.84,213.16 L648.43,213.16 L649.02,213.15 L649.62,213.15 L650.21,213.15 L650.80,213.15 L651.39,213.15 L651.98,213.14 L652.58,213.14 L653.17,213.14 L653.76,213.14 L654.35,213.14 L654.94,213.14 L655.54,213.14 L656.13,213.14 L656.72,213.13 L657.31,213.13 L657.90,213.13 L658.50,213.13 L659.09,213.13 L659.68,213.13 L660.27,213.13 L660.86,213.13 L661.46,213.13 L662.05,213.13 L662.64,213.13 L663.23,213.13 L663.82,213.12 L664.42,213.12 L665.01,213.12 L665.60,213.12 L666.19,213.12 L666.78,213.12 L667.38,213.12 L667.97,213.12 L668.56,213.12 L669.15,213.12 L669.74,213.12" fill="none" stroke="#ff0000" stroke-width="1.20" stroke-linejoin="round" stroke-linecap="round"/>
</g>
<rect x="525.50" y="168.10" width="139.50" height="193.10" fill="none" stroke="#111" stroke-width="1.4"/>
<line x1="522.90" y1="334.10" x2="525.50" y2="334.10" stroke="#111" stroke-width="1.20" stroke-linecap="butt"/>
<text x="521.40" y="336.80" font-family='"Liberation Serif", serif' font-weight="bold" font-size="8.00" text-anchor="end" style="stroke:none">0.0</text>
<line x1="522.90" y1="307.12" x2="525.50" y2="307.12" stroke="#111" stroke-width="1.20" stroke-linecap="butt"/>
<text x="521.40" y="309.82" font-family='"Liberation Serif", serif' font-weight="bold" font-size="8.00" text-anchor="end" style="stroke:none">0.1</text>
<line x1="522.90" y1="280.14" x2="525.50" y2="280.14" stroke="#111" stroke-width="1.20" stroke-linecap="butt"/>
<text x="521.40" y="282.84" font-family='"Liberation Serif", serif' font-weight="bold" font-size="8.00" text-anchor="end" style="stroke:none">0.2</text>
<line x1="522.90" y1="253.16" x2="525.50" y2="253.16" stroke="#111" stroke-width="1.20" stroke-linecap="butt"/>
<text x="521.40" y="255.86" font-family='"Liberation Serif", serif' font-weight="bold" font-size="8.00" text-anchor="end" style="stroke:none">0.3</text>
<line x1="522.90" y1="226.18" x2="525.50" y2="226.18" stroke="#111" stroke-width="1.20" stroke-linecap="butt"/>
<text x="521.40" y="228.88" font-family='"Liberation Serif", serif' font-weight="bold" font-size="8.00" text-anchor="end" style="stroke:none">0.4</text>
<line x1="522.90" y1="199.20" x2="525.50" y2="199.20" stroke="#111" stroke-width="1.20" stroke-linecap="butt"/>
<text x="521.40" y="201.90" font-family='"Liberation Serif", serif' font-weight="bold" font-size="8.00" text-anchor="end" style="stroke:none">0.5</text>
<line x1="522.90" y1="172.22" x2="525.50" y2="172.22" stroke="#111" stroke-width="1.20" stroke-linecap="butt"/>
<text x="521.40" y="174.92" font-family='"Liberation Serif", serif' font-weight="bold" font-size="8.00" text-anchor="end" style="stroke:none">0.6</text>
<line x1="523.90" y1="347.59" x2="525.50" y2="347.59" stroke="#111" stroke-width="1.00" stroke-linecap="butt"/>
<line x1="523.90" y1="320.61" x2="525.50" y2="320.61" stroke="#111" stroke-width="1.00" stroke-linecap="butt"/>
<line x1="523.90" y1="293.63" x2="525.50" y2="293.63" stroke="#111" stroke-width="1.00" stroke-linecap="butt"/>
<line x1="523.90" y1="266.65" x2="525.50" y2="266.65" stroke="#111" stroke-width="1.00" stroke-linecap="butt"/>
<line x1="523.90" y1="239.67" x2="525.50" y2="239.67" stroke="#111" stroke-width="1.00" stroke-linecap="butt"/>
<line x1="523.90" y1="212.69" x2="525.50" y2="212.69" stroke="#111" stroke-width="1.00" stroke-linecap="butt"/>
<line x1="523.90" y1="185.71" x2="525.50" y2="185.71" stroke="#111" stroke-width="1.00" stroke-linecap="butt"/>
<line x1="532.58" y1="361.20" x2="532.58" y2="364.20" stroke="#111" stroke-width="1.20" stroke-linecap="butt"/>
<text x="532.58" y="372.00" font-family='"Liberation Serif", serif' font-weight="bold" font-size="8.00" text-anchor="middle" style="stroke:none">44</text>
<line x1="561.87" y1="361.20" x2="561.87" y2="364.20" stroke="#111" stroke-width="1.20" stroke-linecap="butt"/>
<text x="561.87" y="372.00" font-family='"Liberation Serif", serif' font-weight="bold" font-size="8.00" text-anchor="middle" style="stroke:none">46</text>
<line x1="591.16" y1="361.20" x2="591.16" y2="364.20" stroke="#111" stroke-width="1.20" stroke-linecap="butt"/>
<text x="591.16" y="372.00" font-family='"Liberation Serif", serif' font-weight="bold" font-size="8.00" text-anchor="middle" style="stroke:none">48</text>
<line x1="620.45" y1="361.20" x2="620.45" y2="364.20" stroke="#111" stroke-width="1.20" stroke-linecap="butt"/>
<text x="620.45" y="372.00" font-family='"Liberation Serif", serif' font-weight="bold" font-size="8.00" text-anchor="middle" style="stroke:none">50</text>
<line x1="649.74" y1="361.20" x2="649.74" y2="364.20" stroke="#111" stroke-width="1.20" stroke-linecap="butt"/>
<text x="649.74" y="372.00" font-family='"Liberation Serif", serif' font-weight="bold" font-size="8.00" text-anchor="middle" style="stroke:none">52</text>
<line x1="547.22" y1="361.20" x2="547.22" y2="363.00" stroke="#111" stroke-width="1.00" stroke-linecap="butt"/>
<line x1="576.51" y1="361.20" x2="576.51" y2="363.00" stroke="#111" stroke-width="1.00" stroke-linecap="butt"/>
<line x1="605.80" y1="361.20" x2="605.80" y2="363.00" stroke="#111" stroke-width="1.00" stroke-linecap="butt"/>
<line x1="635.10" y1="361.20" x2="635.10" y2="363.00" stroke="#111" stroke-width="1.00" stroke-linecap="butt"/></svg>
</body></html>
